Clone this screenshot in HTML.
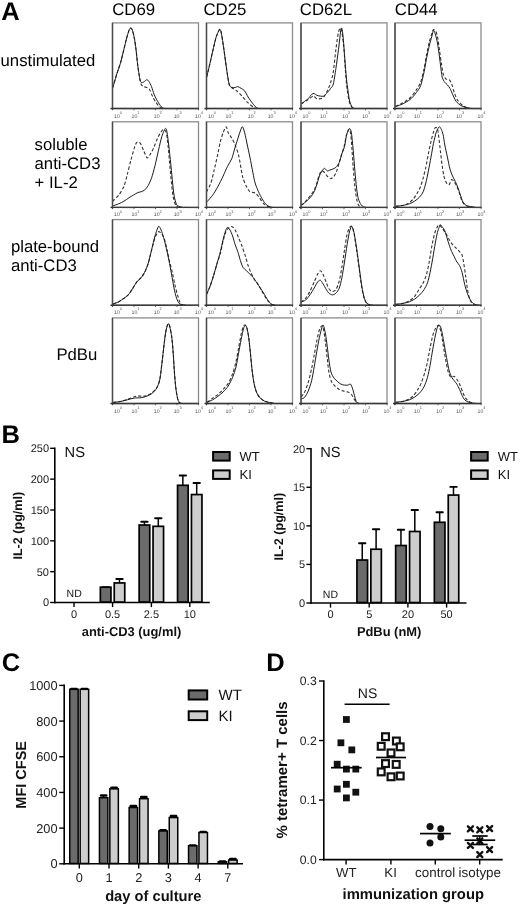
<!DOCTYPE html>
<html><head><meta charset="utf-8"><title>Figure</title>
<style>
html,body{margin:0;padding:0;background:#fff;}
body{width:520px;height:908px;overflow:hidden;}
svg{display:block;}
text{font-family:'Liberation Sans', Arial, Helvetica, sans-serif;text-rendering:geometricPrecision;}
</style></head>
<body>
<svg width="520" height="908" viewBox="0 0 520 908">
<rect width="520" height="908" fill="#fff"/>
<rect x="112.5" y="22.9" width="86" height="85.6" fill="none" stroke="#8c8c8c" stroke-width="1.3"/>
<path d="M112.5,87.4 C112.58,87.29 112.48,88.53 113.1,86.6 C113.72,84.67 115.88,76.86 116.9,73.6 C117.92,70.34 119.42,66.69 120.4,63.3 C121.38,59.91 123.06,52.8 123.9,49.4 C124.74,46 125.69,41.66 126.4,39 C127.11,36.34 128.44,31.93 129,30.4 C129.56,28.87 129.97,28.23 130.4,28.1 C130.83,27.97 131.57,28.21 132.1,29.5 C132.63,30.79 133.65,34.51 134.2,37.3 C134.75,40.09 135.51,45.52 136,49.4 C136.49,53.28 137.17,60.88 137.7,65 C138.23,69.12 139.31,76.08 139.8,78.8 C140.29,81.52 140.64,83.31 141.2,84.4 C141.76,85.49 143.03,86.17 143.8,86.6 C144.57,87.03 145.92,87.14 146.7,87.5 C147.48,87.86 148.6,88 149.4,89.2 C150.2,90.4 151.5,94.28 152.4,96.1 C153.3,97.92 154.83,100.74 155.8,102.2 C156.77,103.66 158.45,105.65 159.3,106.5 C160.15,107.35 161.17,108.02 161.9,108.3 C162.63,108.58 164.14,108.47 164.5,108.5" fill="none" stroke="#333" stroke-width="1.1" stroke-dasharray="3.2 2"/>
<path d="M112.5,87.4 C112.58,87.29 112.48,88.53 113.1,86.6 C113.72,84.67 115.88,76.86 116.9,73.6 C117.92,70.34 119.42,66.69 120.4,63.3 C121.38,59.91 123.06,52.8 123.9,49.4 C124.74,46 125.69,41.66 126.4,39 C127.11,36.34 128.44,31.93 129,30.4 C129.56,28.87 129.97,28.23 130.4,28.1 C130.83,27.97 131.57,28.21 132.1,29.5 C132.63,30.79 133.65,34.51 134.2,37.3 C134.75,40.09 135.51,45.52 136,49.4 C136.49,53.28 137.17,60.88 137.7,65 C138.23,69.12 139.31,76.38 139.8,78.8 C140.29,81.22 140.64,81.86 141.2,82.3 C141.76,82.74 143.03,82.31 143.8,81.95 C144.57,81.59 145.99,79.78 146.7,79.7 C147.41,79.62 148.23,80.43 148.9,81.4 C149.57,82.37 150.77,84.78 151.5,86.6 C152.23,88.42 153.25,92.34 154.1,94.4 C154.95,96.46 156.62,99.61 157.6,101.3 C158.58,102.99 160.25,105.52 161.1,106.5 C161.95,107.48 162.94,108.02 163.7,108.3 C164.46,108.58 166.11,108.47 166.5,108.5" fill="none" stroke="#1a1a1a" stroke-width="1.0"/>
<line x1="112.5" y1="22.9" x2="112.5" y2="110" stroke="#4a4a4a" stroke-width="1.4"/>
<line x1="110.5" y1="108.5" x2="199.1" y2="108.5" stroke="#333" stroke-width="1.4"/>
<line x1="112.5" y1="108.5" x2="112.5" y2="110.3" stroke="#444" stroke-width="0.8"/>
<line x1="118.97" y1="108.5" x2="118.97" y2="109.5" stroke="#777" stroke-width="0.5"/>
<line x1="122.76" y1="108.5" x2="122.76" y2="109.5" stroke="#777" stroke-width="0.5"/>
<line x1="125.44" y1="108.5" x2="125.44" y2="109.5" stroke="#777" stroke-width="0.5"/>
<line x1="127.53" y1="108.5" x2="127.53" y2="109.5" stroke="#777" stroke-width="0.5"/>
<line x1="129.23" y1="108.5" x2="129.23" y2="109.5" stroke="#777" stroke-width="0.5"/>
<line x1="130.67" y1="108.5" x2="130.67" y2="109.5" stroke="#777" stroke-width="0.5"/>
<line x1="131.92" y1="108.5" x2="131.92" y2="109.5" stroke="#777" stroke-width="0.5"/>
<line x1="133.02" y1="108.5" x2="133.02" y2="109.5" stroke="#777" stroke-width="0.5"/>
<line x1="134" y1="108.5" x2="134" y2="110.3" stroke="#444" stroke-width="0.8"/>
<line x1="140.47" y1="108.5" x2="140.47" y2="109.5" stroke="#777" stroke-width="0.5"/>
<line x1="144.26" y1="108.5" x2="144.26" y2="109.5" stroke="#777" stroke-width="0.5"/>
<line x1="146.94" y1="108.5" x2="146.94" y2="109.5" stroke="#777" stroke-width="0.5"/>
<line x1="149.03" y1="108.5" x2="149.03" y2="109.5" stroke="#777" stroke-width="0.5"/>
<line x1="150.73" y1="108.5" x2="150.73" y2="109.5" stroke="#777" stroke-width="0.5"/>
<line x1="152.17" y1="108.5" x2="152.17" y2="109.5" stroke="#777" stroke-width="0.5"/>
<line x1="153.42" y1="108.5" x2="153.42" y2="109.5" stroke="#777" stroke-width="0.5"/>
<line x1="154.52" y1="108.5" x2="154.52" y2="109.5" stroke="#777" stroke-width="0.5"/>
<line x1="155.5" y1="108.5" x2="155.5" y2="110.3" stroke="#444" stroke-width="0.8"/>
<line x1="161.97" y1="108.5" x2="161.97" y2="109.5" stroke="#777" stroke-width="0.5"/>
<line x1="165.76" y1="108.5" x2="165.76" y2="109.5" stroke="#777" stroke-width="0.5"/>
<line x1="168.44" y1="108.5" x2="168.44" y2="109.5" stroke="#777" stroke-width="0.5"/>
<line x1="170.53" y1="108.5" x2="170.53" y2="109.5" stroke="#777" stroke-width="0.5"/>
<line x1="172.23" y1="108.5" x2="172.23" y2="109.5" stroke="#777" stroke-width="0.5"/>
<line x1="173.67" y1="108.5" x2="173.67" y2="109.5" stroke="#777" stroke-width="0.5"/>
<line x1="174.92" y1="108.5" x2="174.92" y2="109.5" stroke="#777" stroke-width="0.5"/>
<line x1="176.02" y1="108.5" x2="176.02" y2="109.5" stroke="#777" stroke-width="0.5"/>
<line x1="177" y1="108.5" x2="177" y2="110.3" stroke="#444" stroke-width="0.8"/>
<line x1="183.47" y1="108.5" x2="183.47" y2="109.5" stroke="#777" stroke-width="0.5"/>
<line x1="187.26" y1="108.5" x2="187.26" y2="109.5" stroke="#777" stroke-width="0.5"/>
<line x1="189.94" y1="108.5" x2="189.94" y2="109.5" stroke="#777" stroke-width="0.5"/>
<line x1="192.03" y1="108.5" x2="192.03" y2="109.5" stroke="#777" stroke-width="0.5"/>
<line x1="193.73" y1="108.5" x2="193.73" y2="109.5" stroke="#777" stroke-width="0.5"/>
<line x1="195.17" y1="108.5" x2="195.17" y2="109.5" stroke="#777" stroke-width="0.5"/>
<line x1="196.42" y1="108.5" x2="196.42" y2="109.5" stroke="#777" stroke-width="0.5"/>
<line x1="197.52" y1="108.5" x2="197.52" y2="109.5" stroke="#777" stroke-width="0.5"/>
<line x1="198.5" y1="108.5" x2="198.5" y2="110.3" stroke="#444" stroke-width="0.8"/>
<text transform="translate(114.1,117.5) scale(0.5)" font-size="10.4" fill="#555">10</text>
<text transform="translate(119.8,113.7) scale(0.5)" font-size="7.8" fill="#555">0</text>
<text transform="translate(131.6,117.5) scale(0.5)" font-size="10.4" fill="#555">10</text>
<text transform="translate(137.3,113.7) scale(0.5)" font-size="7.8" fill="#555">1</text>
<text transform="translate(153.8,117.5) scale(0.5)" font-size="10.4" fill="#555">10</text>
<text transform="translate(159.5,113.7) scale(0.5)" font-size="7.8" fill="#555">2</text>
<text transform="translate(173.7,117.5) scale(0.5)" font-size="10.4" fill="#555">10</text>
<text transform="translate(179.4,113.7) scale(0.5)" font-size="7.8" fill="#555">3</text>
<text transform="translate(195.1,117.5) scale(0.5)" font-size="10.4" fill="#555">10</text>
<text transform="translate(200.8,113.7) scale(0.5)" font-size="7.8" fill="#555">4</text>
<rect x="206.5" y="22.9" width="86" height="85.6" fill="none" stroke="#8c8c8c" stroke-width="1.3"/>
<path d="M206.6,77.1 C206.96,75.64 208.35,70.33 209.2,66.7 C210.05,63.07 211.73,55.32 212.7,51.2 C213.67,47.08 215.13,40.34 216.1,37.3 C217.07,34.26 218.87,30.1 219.6,29.5 C220.33,28.9 220.7,30.21 221.3,33 C221.9,35.79 223.17,44.44 223.9,49.4 C224.63,54.36 225.77,63.56 226.5,68.4 C227.23,73.24 228.37,81.33 229.1,84 C229.83,86.67 230.61,86.52 231.7,87.5 C232.79,88.48 235.44,89.8 236.9,91 C238.36,92.2 240.64,94.53 242.1,96.1 C243.56,97.67 245.84,100.74 247.3,102.2 C248.76,103.66 251.28,105.62 252.5,106.5 C253.72,107.38 255.51,108.22 256,108.5" fill="none" stroke="#333" stroke-width="1.1" stroke-dasharray="3.2 2"/>
<path d="M206.6,77.1 C206.96,75.64 208.35,70.33 209.2,66.7 C210.05,63.07 211.73,55.32 212.7,51.2 C213.67,47.08 215.13,40.34 216.1,37.3 C217.07,34.26 218.87,30.1 219.6,29.5 C220.33,28.9 220.7,30.21 221.3,33 C221.9,35.79 223.17,44.44 223.9,49.4 C224.63,54.36 225.77,63.56 226.5,68.4 C227.23,73.24 228.37,81.33 229.1,84 C229.83,86.67 230.85,87.01 231.7,87.5 C232.55,87.99 234.35,87.63 235.2,87.5 C236.05,87.37 236.96,86.47 237.8,86.6 C238.64,86.73 240.23,87.78 241.2,88.4 C242.17,89.02 243.73,89.8 244.7,91 C245.67,92.2 247.02,95.31 248.1,97 C249.18,98.69 251.18,101.57 252.4,103.1 C253.62,104.63 255.67,107.14 256.8,107.9 C257.93,108.66 259.98,108.42 260.5,108.5" fill="none" stroke="#1a1a1a" stroke-width="1.0"/>
<line x1="206.5" y1="22.9" x2="206.5" y2="110" stroke="#4a4a4a" stroke-width="1.4"/>
<line x1="204.5" y1="108.5" x2="293.1" y2="108.5" stroke="#333" stroke-width="1.4"/>
<line x1="206.5" y1="108.5" x2="206.5" y2="110.3" stroke="#444" stroke-width="0.8"/>
<line x1="212.97" y1="108.5" x2="212.97" y2="109.5" stroke="#777" stroke-width="0.5"/>
<line x1="216.76" y1="108.5" x2="216.76" y2="109.5" stroke="#777" stroke-width="0.5"/>
<line x1="219.44" y1="108.5" x2="219.44" y2="109.5" stroke="#777" stroke-width="0.5"/>
<line x1="221.53" y1="108.5" x2="221.53" y2="109.5" stroke="#777" stroke-width="0.5"/>
<line x1="223.23" y1="108.5" x2="223.23" y2="109.5" stroke="#777" stroke-width="0.5"/>
<line x1="224.67" y1="108.5" x2="224.67" y2="109.5" stroke="#777" stroke-width="0.5"/>
<line x1="225.92" y1="108.5" x2="225.92" y2="109.5" stroke="#777" stroke-width="0.5"/>
<line x1="227.02" y1="108.5" x2="227.02" y2="109.5" stroke="#777" stroke-width="0.5"/>
<line x1="228" y1="108.5" x2="228" y2="110.3" stroke="#444" stroke-width="0.8"/>
<line x1="234.47" y1="108.5" x2="234.47" y2="109.5" stroke="#777" stroke-width="0.5"/>
<line x1="238.26" y1="108.5" x2="238.26" y2="109.5" stroke="#777" stroke-width="0.5"/>
<line x1="240.94" y1="108.5" x2="240.94" y2="109.5" stroke="#777" stroke-width="0.5"/>
<line x1="243.03" y1="108.5" x2="243.03" y2="109.5" stroke="#777" stroke-width="0.5"/>
<line x1="244.73" y1="108.5" x2="244.73" y2="109.5" stroke="#777" stroke-width="0.5"/>
<line x1="246.17" y1="108.5" x2="246.17" y2="109.5" stroke="#777" stroke-width="0.5"/>
<line x1="247.42" y1="108.5" x2="247.42" y2="109.5" stroke="#777" stroke-width="0.5"/>
<line x1="248.52" y1="108.5" x2="248.52" y2="109.5" stroke="#777" stroke-width="0.5"/>
<line x1="249.5" y1="108.5" x2="249.5" y2="110.3" stroke="#444" stroke-width="0.8"/>
<line x1="255.97" y1="108.5" x2="255.97" y2="109.5" stroke="#777" stroke-width="0.5"/>
<line x1="259.76" y1="108.5" x2="259.76" y2="109.5" stroke="#777" stroke-width="0.5"/>
<line x1="262.44" y1="108.5" x2="262.44" y2="109.5" stroke="#777" stroke-width="0.5"/>
<line x1="264.53" y1="108.5" x2="264.53" y2="109.5" stroke="#777" stroke-width="0.5"/>
<line x1="266.23" y1="108.5" x2="266.23" y2="109.5" stroke="#777" stroke-width="0.5"/>
<line x1="267.67" y1="108.5" x2="267.67" y2="109.5" stroke="#777" stroke-width="0.5"/>
<line x1="268.92" y1="108.5" x2="268.92" y2="109.5" stroke="#777" stroke-width="0.5"/>
<line x1="270.02" y1="108.5" x2="270.02" y2="109.5" stroke="#777" stroke-width="0.5"/>
<line x1="271" y1="108.5" x2="271" y2="110.3" stroke="#444" stroke-width="0.8"/>
<line x1="277.47" y1="108.5" x2="277.47" y2="109.5" stroke="#777" stroke-width="0.5"/>
<line x1="281.26" y1="108.5" x2="281.26" y2="109.5" stroke="#777" stroke-width="0.5"/>
<line x1="283.94" y1="108.5" x2="283.94" y2="109.5" stroke="#777" stroke-width="0.5"/>
<line x1="286.03" y1="108.5" x2="286.03" y2="109.5" stroke="#777" stroke-width="0.5"/>
<line x1="287.73" y1="108.5" x2="287.73" y2="109.5" stroke="#777" stroke-width="0.5"/>
<line x1="289.17" y1="108.5" x2="289.17" y2="109.5" stroke="#777" stroke-width="0.5"/>
<line x1="290.42" y1="108.5" x2="290.42" y2="109.5" stroke="#777" stroke-width="0.5"/>
<line x1="291.52" y1="108.5" x2="291.52" y2="109.5" stroke="#777" stroke-width="0.5"/>
<line x1="292.5" y1="108.5" x2="292.5" y2="110.3" stroke="#444" stroke-width="0.8"/>
<text transform="translate(208.1,117.5) scale(0.5)" font-size="10.4" fill="#555">10</text>
<text transform="translate(213.8,113.7) scale(0.5)" font-size="7.8" fill="#555">0</text>
<text transform="translate(225.6,117.5) scale(0.5)" font-size="10.4" fill="#555">10</text>
<text transform="translate(231.3,113.7) scale(0.5)" font-size="7.8" fill="#555">1</text>
<text transform="translate(247.8,117.5) scale(0.5)" font-size="10.4" fill="#555">10</text>
<text transform="translate(253.5,113.7) scale(0.5)" font-size="7.8" fill="#555">2</text>
<text transform="translate(267.7,117.5) scale(0.5)" font-size="10.4" fill="#555">10</text>
<text transform="translate(273.4,113.7) scale(0.5)" font-size="7.8" fill="#555">3</text>
<text transform="translate(289.1,117.5) scale(0.5)" font-size="10.4" fill="#555">10</text>
<text transform="translate(294.8,113.7) scale(0.5)" font-size="7.8" fill="#555">4</text>
<rect x="301" y="22.9" width="86" height="85.6" fill="none" stroke="#8c8c8c" stroke-width="1.3"/>
<path d="M301.3,103.9 C302.27,103.3 306.51,100.69 308.2,99.6 C309.89,98.51 312.2,96.23 313.4,96.1 C314.6,95.97 315.83,98.34 316.8,98.7 C317.77,99.06 319.32,98.94 320.3,98.7 C321.28,98.46 322.71,98.33 323.8,97 C324.89,95.67 327.13,91.26 328.1,89.2 C329.07,87.14 329.97,84.72 330.7,82.3 C331.43,79.88 332.57,76.51 333.3,71.9 C334.03,67.29 335.17,54.97 335.9,49.4 C336.63,43.83 337.77,35 338.5,32.1 C339.23,29.2 340.37,26.75 341.1,28.7 C341.83,30.65 343.1,40.19 343.7,46 C344.3,51.81 344.92,64.15 345.4,70.2 C345.88,76.25 346.5,84.59 347.1,89.2 C347.7,93.81 348.97,100.51 349.7,103.1 C350.43,105.69 351.7,106.94 352.3,107.7 C352.9,108.46 353.76,108.39 354,108.5" fill="none" stroke="#333" stroke-width="1.1" stroke-dasharray="3.2 2"/>
<path d="M301.3,103.9 C301.78,103.54 303.73,102.03 304.7,101.3 C305.67,100.57 307.23,99.67 308.2,98.7 C309.17,97.73 310.76,95.13 311.6,94.4 C312.44,93.67 313.47,93.37 314.2,93.5 C314.93,93.63 315.95,94.94 316.8,95.3 C317.65,95.66 319.32,95.99 320.3,96.1 C321.28,96.21 322.83,96.58 323.8,96.1 C324.77,95.62 326.23,93.78 327.2,92.7 C328.17,91.62 329.85,89.62 330.7,88.4 C331.55,87.18 332.57,86.79 333.3,84 C334.03,81.21 335.17,73.34 335.9,68.5 C336.63,63.66 337.77,54.97 338.5,49.4 C339.23,43.83 340.5,30.88 341.1,28.7 C341.7,26.52 342.32,30.17 342.8,33.8 C343.28,37.43 344.01,48.54 344.5,54.6 C344.99,60.66 345.81,72.02 346.3,77.1 C346.79,82.18 347.52,87.51 348,90.9 C348.48,94.29 349.1,98.99 349.7,101.3 C350.3,103.61 351.56,106.39 352.3,107.4 C353.04,108.41 354.62,108.35 355,108.5" fill="none" stroke="#1a1a1a" stroke-width="1.0"/>
<line x1="301" y1="22.9" x2="301" y2="110" stroke="#4a4a4a" stroke-width="1.4"/>
<line x1="299" y1="108.5" x2="387.6" y2="108.5" stroke="#333" stroke-width="1.4"/>
<line x1="301" y1="108.5" x2="301" y2="110.3" stroke="#444" stroke-width="0.8"/>
<line x1="307.47" y1="108.5" x2="307.47" y2="109.5" stroke="#777" stroke-width="0.5"/>
<line x1="311.26" y1="108.5" x2="311.26" y2="109.5" stroke="#777" stroke-width="0.5"/>
<line x1="313.94" y1="108.5" x2="313.94" y2="109.5" stroke="#777" stroke-width="0.5"/>
<line x1="316.03" y1="108.5" x2="316.03" y2="109.5" stroke="#777" stroke-width="0.5"/>
<line x1="317.73" y1="108.5" x2="317.73" y2="109.5" stroke="#777" stroke-width="0.5"/>
<line x1="319.17" y1="108.5" x2="319.17" y2="109.5" stroke="#777" stroke-width="0.5"/>
<line x1="320.42" y1="108.5" x2="320.42" y2="109.5" stroke="#777" stroke-width="0.5"/>
<line x1="321.52" y1="108.5" x2="321.52" y2="109.5" stroke="#777" stroke-width="0.5"/>
<line x1="322.5" y1="108.5" x2="322.5" y2="110.3" stroke="#444" stroke-width="0.8"/>
<line x1="328.97" y1="108.5" x2="328.97" y2="109.5" stroke="#777" stroke-width="0.5"/>
<line x1="332.76" y1="108.5" x2="332.76" y2="109.5" stroke="#777" stroke-width="0.5"/>
<line x1="335.44" y1="108.5" x2="335.44" y2="109.5" stroke="#777" stroke-width="0.5"/>
<line x1="337.53" y1="108.5" x2="337.53" y2="109.5" stroke="#777" stroke-width="0.5"/>
<line x1="339.23" y1="108.5" x2="339.23" y2="109.5" stroke="#777" stroke-width="0.5"/>
<line x1="340.67" y1="108.5" x2="340.67" y2="109.5" stroke="#777" stroke-width="0.5"/>
<line x1="341.92" y1="108.5" x2="341.92" y2="109.5" stroke="#777" stroke-width="0.5"/>
<line x1="343.02" y1="108.5" x2="343.02" y2="109.5" stroke="#777" stroke-width="0.5"/>
<line x1="344" y1="108.5" x2="344" y2="110.3" stroke="#444" stroke-width="0.8"/>
<line x1="350.47" y1="108.5" x2="350.47" y2="109.5" stroke="#777" stroke-width="0.5"/>
<line x1="354.26" y1="108.5" x2="354.26" y2="109.5" stroke="#777" stroke-width="0.5"/>
<line x1="356.94" y1="108.5" x2="356.94" y2="109.5" stroke="#777" stroke-width="0.5"/>
<line x1="359.03" y1="108.5" x2="359.03" y2="109.5" stroke="#777" stroke-width="0.5"/>
<line x1="360.73" y1="108.5" x2="360.73" y2="109.5" stroke="#777" stroke-width="0.5"/>
<line x1="362.17" y1="108.5" x2="362.17" y2="109.5" stroke="#777" stroke-width="0.5"/>
<line x1="363.42" y1="108.5" x2="363.42" y2="109.5" stroke="#777" stroke-width="0.5"/>
<line x1="364.52" y1="108.5" x2="364.52" y2="109.5" stroke="#777" stroke-width="0.5"/>
<line x1="365.5" y1="108.5" x2="365.5" y2="110.3" stroke="#444" stroke-width="0.8"/>
<line x1="371.97" y1="108.5" x2="371.97" y2="109.5" stroke="#777" stroke-width="0.5"/>
<line x1="375.76" y1="108.5" x2="375.76" y2="109.5" stroke="#777" stroke-width="0.5"/>
<line x1="378.44" y1="108.5" x2="378.44" y2="109.5" stroke="#777" stroke-width="0.5"/>
<line x1="380.53" y1="108.5" x2="380.53" y2="109.5" stroke="#777" stroke-width="0.5"/>
<line x1="382.23" y1="108.5" x2="382.23" y2="109.5" stroke="#777" stroke-width="0.5"/>
<line x1="383.67" y1="108.5" x2="383.67" y2="109.5" stroke="#777" stroke-width="0.5"/>
<line x1="384.92" y1="108.5" x2="384.92" y2="109.5" stroke="#777" stroke-width="0.5"/>
<line x1="386.02" y1="108.5" x2="386.02" y2="109.5" stroke="#777" stroke-width="0.5"/>
<line x1="387" y1="108.5" x2="387" y2="110.3" stroke="#444" stroke-width="0.8"/>
<text transform="translate(302.6,117.5) scale(0.5)" font-size="10.4" fill="#555">10</text>
<text transform="translate(308.3,113.7) scale(0.5)" font-size="7.8" fill="#555">0</text>
<text transform="translate(320.1,117.5) scale(0.5)" font-size="10.4" fill="#555">10</text>
<text transform="translate(325.8,113.7) scale(0.5)" font-size="7.8" fill="#555">1</text>
<text transform="translate(342.3,117.5) scale(0.5)" font-size="10.4" fill="#555">10</text>
<text transform="translate(348,113.7) scale(0.5)" font-size="7.8" fill="#555">2</text>
<text transform="translate(362.2,117.5) scale(0.5)" font-size="10.4" fill="#555">10</text>
<text transform="translate(367.9,113.7) scale(0.5)" font-size="7.8" fill="#555">3</text>
<text transform="translate(383.6,117.5) scale(0.5)" font-size="10.4" fill="#555">10</text>
<text transform="translate(389.3,113.7) scale(0.5)" font-size="7.8" fill="#555">4</text>
<rect x="395" y="22.9" width="86" height="85.6" fill="none" stroke="#8c8c8c" stroke-width="1.3"/>
<path d="M395.5,106.5 C396.23,106.14 399.24,104.67 400.7,103.9 C402.16,103.13 404.44,101.97 405.9,101 C407.36,100.03 409.66,98.53 411.1,97 C412.54,95.47 414.87,92.16 416.2,90.1 C417.53,88.04 419.49,85.32 420.6,82.3 C421.71,79.28 423.26,72.38 424.1,68.5 C424.94,64.62 425.89,58.24 426.6,54.6 C427.31,50.96 428.47,45.41 429.2,42.5 C429.93,39.59 431.2,35.62 431.8,33.8 C432.4,31.98 432.9,29.74 433.5,29.5 C434.1,29.26 435.48,30.77 436.1,32.1 C436.72,33.43 437.41,36.34 437.9,39 C438.39,41.66 439.11,47.7 439.6,51.1 C440.09,54.5 440.91,60.15 441.4,63.3 C441.89,66.45 442.5,71.43 443.1,73.6 C443.7,75.77 444.85,77.95 445.7,78.8 C446.55,79.65 448.36,78.97 449.2,79.7 C450.04,80.43 450.99,82.18 451.7,84 C452.41,85.82 453.45,90.39 454.3,92.7 C455.15,95.01 456.58,98.68 457.8,100.5 C459.02,102.32 461.57,104.58 463,105.7 C464.43,106.82 467.3,108.11 468,108.5" fill="none" stroke="#333" stroke-width="1.1" stroke-dasharray="3.2 2"/>
<path d="M395.5,106.5 C396.23,106.26 399.24,105.4 400.7,104.8 C402.16,104.2 404.44,103.05 405.9,102.2 C407.36,101.35 409.66,100.03 411.1,98.7 C412.54,97.37 414.87,94.51 416.2,92.7 C417.53,90.89 419.49,88.71 420.6,85.8 C421.71,82.89 423.26,75.78 424.1,71.9 C424.94,68.02 425.89,61.73 426.6,58.1 C427.31,54.47 428.47,49.04 429.2,46 C429.93,42.96 431.2,38.58 431.8,36.4 C432.4,34.22 433.02,30.76 433.5,30.4 C433.98,30.04 434.71,32.34 435.2,33.8 C435.69,35.26 436.51,38.38 437,40.8 C437.49,43.22 438.21,47.71 438.7,51.1 C439.19,54.49 440.01,61.36 440.5,65 C440.99,68.64 441.6,74.68 442.2,77.1 C442.8,79.52 444.07,81.21 444.8,82.3 C445.53,83.39 446.67,84.05 447.4,84.9 C448.13,85.75 449.27,87.07 450,88.4 C450.73,89.73 451.75,92.59 452.6,94.4 C453.45,96.21 454.9,99.72 456.1,101.3 C457.3,102.88 459.76,104.85 461.2,105.7 C462.64,106.55 465.03,107.01 466.4,107.4 C467.77,107.79 470.36,108.35 471,108.5" fill="none" stroke="#1a1a1a" stroke-width="1.0"/>
<line x1="395" y1="22.9" x2="395" y2="110" stroke="#4a4a4a" stroke-width="1.4"/>
<line x1="393" y1="108.5" x2="481.6" y2="108.5" stroke="#333" stroke-width="1.4"/>
<line x1="395" y1="108.5" x2="395" y2="110.3" stroke="#444" stroke-width="0.8"/>
<line x1="401.47" y1="108.5" x2="401.47" y2="109.5" stroke="#777" stroke-width="0.5"/>
<line x1="405.26" y1="108.5" x2="405.26" y2="109.5" stroke="#777" stroke-width="0.5"/>
<line x1="407.94" y1="108.5" x2="407.94" y2="109.5" stroke="#777" stroke-width="0.5"/>
<line x1="410.03" y1="108.5" x2="410.03" y2="109.5" stroke="#777" stroke-width="0.5"/>
<line x1="411.73" y1="108.5" x2="411.73" y2="109.5" stroke="#777" stroke-width="0.5"/>
<line x1="413.17" y1="108.5" x2="413.17" y2="109.5" stroke="#777" stroke-width="0.5"/>
<line x1="414.42" y1="108.5" x2="414.42" y2="109.5" stroke="#777" stroke-width="0.5"/>
<line x1="415.52" y1="108.5" x2="415.52" y2="109.5" stroke="#777" stroke-width="0.5"/>
<line x1="416.5" y1="108.5" x2="416.5" y2="110.3" stroke="#444" stroke-width="0.8"/>
<line x1="422.97" y1="108.5" x2="422.97" y2="109.5" stroke="#777" stroke-width="0.5"/>
<line x1="426.76" y1="108.5" x2="426.76" y2="109.5" stroke="#777" stroke-width="0.5"/>
<line x1="429.44" y1="108.5" x2="429.44" y2="109.5" stroke="#777" stroke-width="0.5"/>
<line x1="431.53" y1="108.5" x2="431.53" y2="109.5" stroke="#777" stroke-width="0.5"/>
<line x1="433.23" y1="108.5" x2="433.23" y2="109.5" stroke="#777" stroke-width="0.5"/>
<line x1="434.67" y1="108.5" x2="434.67" y2="109.5" stroke="#777" stroke-width="0.5"/>
<line x1="435.92" y1="108.5" x2="435.92" y2="109.5" stroke="#777" stroke-width="0.5"/>
<line x1="437.02" y1="108.5" x2="437.02" y2="109.5" stroke="#777" stroke-width="0.5"/>
<line x1="438" y1="108.5" x2="438" y2="110.3" stroke="#444" stroke-width="0.8"/>
<line x1="444.47" y1="108.5" x2="444.47" y2="109.5" stroke="#777" stroke-width="0.5"/>
<line x1="448.26" y1="108.5" x2="448.26" y2="109.5" stroke="#777" stroke-width="0.5"/>
<line x1="450.94" y1="108.5" x2="450.94" y2="109.5" stroke="#777" stroke-width="0.5"/>
<line x1="453.03" y1="108.5" x2="453.03" y2="109.5" stroke="#777" stroke-width="0.5"/>
<line x1="454.73" y1="108.5" x2="454.73" y2="109.5" stroke="#777" stroke-width="0.5"/>
<line x1="456.17" y1="108.5" x2="456.17" y2="109.5" stroke="#777" stroke-width="0.5"/>
<line x1="457.42" y1="108.5" x2="457.42" y2="109.5" stroke="#777" stroke-width="0.5"/>
<line x1="458.52" y1="108.5" x2="458.52" y2="109.5" stroke="#777" stroke-width="0.5"/>
<line x1="459.5" y1="108.5" x2="459.5" y2="110.3" stroke="#444" stroke-width="0.8"/>
<line x1="465.97" y1="108.5" x2="465.97" y2="109.5" stroke="#777" stroke-width="0.5"/>
<line x1="469.76" y1="108.5" x2="469.76" y2="109.5" stroke="#777" stroke-width="0.5"/>
<line x1="472.44" y1="108.5" x2="472.44" y2="109.5" stroke="#777" stroke-width="0.5"/>
<line x1="474.53" y1="108.5" x2="474.53" y2="109.5" stroke="#777" stroke-width="0.5"/>
<line x1="476.23" y1="108.5" x2="476.23" y2="109.5" stroke="#777" stroke-width="0.5"/>
<line x1="477.67" y1="108.5" x2="477.67" y2="109.5" stroke="#777" stroke-width="0.5"/>
<line x1="478.92" y1="108.5" x2="478.92" y2="109.5" stroke="#777" stroke-width="0.5"/>
<line x1="480.02" y1="108.5" x2="480.02" y2="109.5" stroke="#777" stroke-width="0.5"/>
<line x1="481" y1="108.5" x2="481" y2="110.3" stroke="#444" stroke-width="0.8"/>
<text transform="translate(396.6,117.5) scale(0.5)" font-size="10.4" fill="#555">10</text>
<text transform="translate(402.3,113.7) scale(0.5)" font-size="7.8" fill="#555">0</text>
<text transform="translate(414.1,117.5) scale(0.5)" font-size="10.4" fill="#555">10</text>
<text transform="translate(419.8,113.7) scale(0.5)" font-size="7.8" fill="#555">1</text>
<text transform="translate(436.3,117.5) scale(0.5)" font-size="10.4" fill="#555">10</text>
<text transform="translate(442,113.7) scale(0.5)" font-size="7.8" fill="#555">2</text>
<text transform="translate(456.2,117.5) scale(0.5)" font-size="10.4" fill="#555">10</text>
<text transform="translate(461.9,113.7) scale(0.5)" font-size="7.8" fill="#555">3</text>
<text transform="translate(477.6,117.5) scale(0.5)" font-size="10.4" fill="#555">10</text>
<text transform="translate(483.3,113.7) scale(0.5)" font-size="7.8" fill="#555">4</text>
<rect x="112.5" y="121.8" width="86" height="85.6" fill="none" stroke="#8c8c8c" stroke-width="1.3"/>
<path d="M112.5,201.3 C112.64,201.17 112.63,201.27 113.5,200.4 C114.37,199.53 117.24,197.05 118.7,195.1 C120.16,193.15 122.7,189.4 123.9,186.5 C125.1,183.6 126.33,178.04 127.3,174.4 C128.27,170.76 129.83,164.14 130.8,160.5 C131.77,156.86 133.36,150.93 134.2,148.4 C135.04,145.87 135.95,143.13 136.8,142.4 C137.65,141.67 139.32,142 140.3,143.2 C141.28,144.4 142.83,148.94 143.8,151 C144.77,153.06 146.23,157.54 147.2,157.9 C148.17,158.26 149.73,155.17 150.7,153.6 C151.67,152.03 153.13,148.88 154.1,146.7 C155.07,144.52 156.62,140.06 157.6,138 C158.58,135.94 160.25,133.2 161.1,132 C161.95,130.8 162.97,129.29 163.7,129.4 C164.43,129.51 165.7,130.62 166.3,132.8 C166.9,134.98 167.52,140.63 168,145 C168.48,149.37 169.21,158.68 169.7,164 C170.19,169.32 171.01,178.39 171.5,183 C171.99,187.61 172.6,193.75 173.2,196.9 C173.8,200.05 175.06,204.03 175.8,205.5 C176.54,206.97 178.12,207.13 178.5,207.4" fill="none" stroke="#333" stroke-width="1.1" stroke-dasharray="3.2 2"/>
<path d="M112.5,206 C113.37,205.69 117.1,204.47 118.7,203.8 C120.3,203.13 122.44,202.05 123.9,201.2 C125.36,200.35 127.77,198.55 129.1,197.7 C130.43,196.85 132.18,195.81 133.4,195.1 C134.62,194.39 136.71,193.08 137.8,192.6 C138.89,192.12 140.25,192.06 141.2,191.7 C142.15,191.34 143.63,190.85 144.6,190 C145.57,189.15 147.12,187.31 148.1,185.6 C149.08,183.89 150.63,180.59 151.6,177.8 C152.57,175.01 154.03,169.56 155,165.7 C155.97,161.84 157.53,154.32 158.5,150.2 C159.47,146.08 160.93,139.34 161.9,136.3 C162.87,133.26 164.67,128.99 165.4,128.5 C166.13,128.01 166.5,129.29 167.1,132.8 C167.7,136.31 168.97,147.05 169.7,153.6 C170.43,160.15 171.7,173.79 172.3,179.6 C172.9,185.41 173.4,191.59 174,195.1 C174.6,198.61 175.87,203.12 176.6,204.7 C177.33,206.28 178.37,206.02 179.2,206.4 C180.03,206.78 182.04,207.26 182.5,207.4" fill="none" stroke="#1a1a1a" stroke-width="1.0"/>
<line x1="112.5" y1="121.8" x2="112.5" y2="208.9" stroke="#4a4a4a" stroke-width="1.4"/>
<line x1="110.5" y1="207.4" x2="199.1" y2="207.4" stroke="#333" stroke-width="1.4"/>
<line x1="112.5" y1="207.4" x2="112.5" y2="209.2" stroke="#444" stroke-width="0.8"/>
<line x1="118.97" y1="207.4" x2="118.97" y2="208.4" stroke="#777" stroke-width="0.5"/>
<line x1="122.76" y1="207.4" x2="122.76" y2="208.4" stroke="#777" stroke-width="0.5"/>
<line x1="125.44" y1="207.4" x2="125.44" y2="208.4" stroke="#777" stroke-width="0.5"/>
<line x1="127.53" y1="207.4" x2="127.53" y2="208.4" stroke="#777" stroke-width="0.5"/>
<line x1="129.23" y1="207.4" x2="129.23" y2="208.4" stroke="#777" stroke-width="0.5"/>
<line x1="130.67" y1="207.4" x2="130.67" y2="208.4" stroke="#777" stroke-width="0.5"/>
<line x1="131.92" y1="207.4" x2="131.92" y2="208.4" stroke="#777" stroke-width="0.5"/>
<line x1="133.02" y1="207.4" x2="133.02" y2="208.4" stroke="#777" stroke-width="0.5"/>
<line x1="134" y1="207.4" x2="134" y2="209.2" stroke="#444" stroke-width="0.8"/>
<line x1="140.47" y1="207.4" x2="140.47" y2="208.4" stroke="#777" stroke-width="0.5"/>
<line x1="144.26" y1="207.4" x2="144.26" y2="208.4" stroke="#777" stroke-width="0.5"/>
<line x1="146.94" y1="207.4" x2="146.94" y2="208.4" stroke="#777" stroke-width="0.5"/>
<line x1="149.03" y1="207.4" x2="149.03" y2="208.4" stroke="#777" stroke-width="0.5"/>
<line x1="150.73" y1="207.4" x2="150.73" y2="208.4" stroke="#777" stroke-width="0.5"/>
<line x1="152.17" y1="207.4" x2="152.17" y2="208.4" stroke="#777" stroke-width="0.5"/>
<line x1="153.42" y1="207.4" x2="153.42" y2="208.4" stroke="#777" stroke-width="0.5"/>
<line x1="154.52" y1="207.4" x2="154.52" y2="208.4" stroke="#777" stroke-width="0.5"/>
<line x1="155.5" y1="207.4" x2="155.5" y2="209.2" stroke="#444" stroke-width="0.8"/>
<line x1="161.97" y1="207.4" x2="161.97" y2="208.4" stroke="#777" stroke-width="0.5"/>
<line x1="165.76" y1="207.4" x2="165.76" y2="208.4" stroke="#777" stroke-width="0.5"/>
<line x1="168.44" y1="207.4" x2="168.44" y2="208.4" stroke="#777" stroke-width="0.5"/>
<line x1="170.53" y1="207.4" x2="170.53" y2="208.4" stroke="#777" stroke-width="0.5"/>
<line x1="172.23" y1="207.4" x2="172.23" y2="208.4" stroke="#777" stroke-width="0.5"/>
<line x1="173.67" y1="207.4" x2="173.67" y2="208.4" stroke="#777" stroke-width="0.5"/>
<line x1="174.92" y1="207.4" x2="174.92" y2="208.4" stroke="#777" stroke-width="0.5"/>
<line x1="176.02" y1="207.4" x2="176.02" y2="208.4" stroke="#777" stroke-width="0.5"/>
<line x1="177" y1="207.4" x2="177" y2="209.2" stroke="#444" stroke-width="0.8"/>
<line x1="183.47" y1="207.4" x2="183.47" y2="208.4" stroke="#777" stroke-width="0.5"/>
<line x1="187.26" y1="207.4" x2="187.26" y2="208.4" stroke="#777" stroke-width="0.5"/>
<line x1="189.94" y1="207.4" x2="189.94" y2="208.4" stroke="#777" stroke-width="0.5"/>
<line x1="192.03" y1="207.4" x2="192.03" y2="208.4" stroke="#777" stroke-width="0.5"/>
<line x1="193.73" y1="207.4" x2="193.73" y2="208.4" stroke="#777" stroke-width="0.5"/>
<line x1="195.17" y1="207.4" x2="195.17" y2="208.4" stroke="#777" stroke-width="0.5"/>
<line x1="196.42" y1="207.4" x2="196.42" y2="208.4" stroke="#777" stroke-width="0.5"/>
<line x1="197.52" y1="207.4" x2="197.52" y2="208.4" stroke="#777" stroke-width="0.5"/>
<line x1="198.5" y1="207.4" x2="198.5" y2="209.2" stroke="#444" stroke-width="0.8"/>
<text transform="translate(114.1,216.4) scale(0.5)" font-size="10.4" fill="#555">10</text>
<text transform="translate(119.8,212.6) scale(0.5)" font-size="7.8" fill="#555">0</text>
<text transform="translate(131.6,216.4) scale(0.5)" font-size="10.4" fill="#555">10</text>
<text transform="translate(137.3,212.6) scale(0.5)" font-size="7.8" fill="#555">1</text>
<text transform="translate(153.8,216.4) scale(0.5)" font-size="10.4" fill="#555">10</text>
<text transform="translate(159.5,212.6) scale(0.5)" font-size="7.8" fill="#555">2</text>
<text transform="translate(173.7,216.4) scale(0.5)" font-size="10.4" fill="#555">10</text>
<text transform="translate(179.4,212.6) scale(0.5)" font-size="7.8" fill="#555">3</text>
<text transform="translate(195.1,216.4) scale(0.5)" font-size="10.4" fill="#555">10</text>
<text transform="translate(200.8,212.6) scale(0.5)" font-size="7.8" fill="#555">4</text>
<rect x="206.5" y="121.8" width="86" height="85.6" fill="none" stroke="#8c8c8c" stroke-width="1.3"/>
<path d="M206.5,191.8 C206.64,191.55 206.88,191.23 207.5,190 C208.12,188.77 209.93,185.91 210.9,183 C211.87,180.09 213.42,173.32 214.4,169.2 C215.38,165.08 217.06,157.48 217.9,153.6 C218.74,149.72 219.67,144.41 220.4,141.5 C221.13,138.59 222.29,134.86 223.1,132.8 C223.91,130.74 225.49,126.8 226.2,126.8 C226.91,126.8 227.43,131.23 228.2,132.8 C228.97,134.37 230.72,136.29 231.7,138 C232.68,139.71 234.23,142.58 235.2,145 C236.17,147.42 237.76,151.91 238.6,155.3 C239.44,158.69 240.6,166.05 241.2,169.2 C241.8,172.35 242.17,175.38 242.9,177.8 C243.63,180.22 245.42,184.55 246.4,186.5 C247.38,188.45 248.93,190.86 249.9,191.7 C250.87,192.54 252.46,192.26 253.3,192.5 C254.14,192.74 255.05,192.67 255.9,193.4 C256.75,194.13 258.31,196.24 259.4,197.7 C260.49,199.16 262.5,202.58 263.7,203.8 C264.9,205.02 266.91,205.9 268,206.4 C269.09,206.9 271.01,207.26 271.5,207.4" fill="none" stroke="#333" stroke-width="1.1" stroke-dasharray="3.2 2"/>
<path d="M206.5,202.2 C206.64,202.06 206.63,202.19 207.5,201.2 C208.37,200.21 211.24,197.16 212.7,195.1 C214.16,193.04 216.44,189.16 217.9,186.5 C219.36,183.84 221.77,178.89 223.1,176.1 C224.43,173.31 226.2,169.02 227.4,166.6 C228.6,164.18 230.73,161.11 231.7,158.8 C232.67,156.49 233.57,152.52 234.3,150.1 C235.03,147.68 236.06,144.16 236.9,141.5 C237.74,138.84 239.53,133.16 240.3,131.1 C241.07,129.04 241.78,126.56 242.4,126.8 C243.02,127.04 244.01,130.25 244.7,132.8 C245.39,135.35 246.57,141.6 247.3,145 C248.03,148.4 249.12,153.24 249.9,157.1 C250.68,160.96 252.17,168.97 252.9,172.6 C253.63,176.23 254.32,180.33 255.1,183 C255.88,185.67 257.53,189.52 258.5,191.7 C259.47,193.88 261.03,196.91 262,198.6 C262.97,200.29 264.43,202.71 265.4,203.8 C266.37,204.89 267.91,205.9 268.9,206.4 C269.89,206.9 272,207.26 272.5,207.4" fill="none" stroke="#1a1a1a" stroke-width="1.0"/>
<line x1="206.5" y1="121.8" x2="206.5" y2="208.9" stroke="#4a4a4a" stroke-width="1.4"/>
<line x1="204.5" y1="207.4" x2="293.1" y2="207.4" stroke="#333" stroke-width="1.4"/>
<line x1="206.5" y1="207.4" x2="206.5" y2="209.2" stroke="#444" stroke-width="0.8"/>
<line x1="212.97" y1="207.4" x2="212.97" y2="208.4" stroke="#777" stroke-width="0.5"/>
<line x1="216.76" y1="207.4" x2="216.76" y2="208.4" stroke="#777" stroke-width="0.5"/>
<line x1="219.44" y1="207.4" x2="219.44" y2="208.4" stroke="#777" stroke-width="0.5"/>
<line x1="221.53" y1="207.4" x2="221.53" y2="208.4" stroke="#777" stroke-width="0.5"/>
<line x1="223.23" y1="207.4" x2="223.23" y2="208.4" stroke="#777" stroke-width="0.5"/>
<line x1="224.67" y1="207.4" x2="224.67" y2="208.4" stroke="#777" stroke-width="0.5"/>
<line x1="225.92" y1="207.4" x2="225.92" y2="208.4" stroke="#777" stroke-width="0.5"/>
<line x1="227.02" y1="207.4" x2="227.02" y2="208.4" stroke="#777" stroke-width="0.5"/>
<line x1="228" y1="207.4" x2="228" y2="209.2" stroke="#444" stroke-width="0.8"/>
<line x1="234.47" y1="207.4" x2="234.47" y2="208.4" stroke="#777" stroke-width="0.5"/>
<line x1="238.26" y1="207.4" x2="238.26" y2="208.4" stroke="#777" stroke-width="0.5"/>
<line x1="240.94" y1="207.4" x2="240.94" y2="208.4" stroke="#777" stroke-width="0.5"/>
<line x1="243.03" y1="207.4" x2="243.03" y2="208.4" stroke="#777" stroke-width="0.5"/>
<line x1="244.73" y1="207.4" x2="244.73" y2="208.4" stroke="#777" stroke-width="0.5"/>
<line x1="246.17" y1="207.4" x2="246.17" y2="208.4" stroke="#777" stroke-width="0.5"/>
<line x1="247.42" y1="207.4" x2="247.42" y2="208.4" stroke="#777" stroke-width="0.5"/>
<line x1="248.52" y1="207.4" x2="248.52" y2="208.4" stroke="#777" stroke-width="0.5"/>
<line x1="249.5" y1="207.4" x2="249.5" y2="209.2" stroke="#444" stroke-width="0.8"/>
<line x1="255.97" y1="207.4" x2="255.97" y2="208.4" stroke="#777" stroke-width="0.5"/>
<line x1="259.76" y1="207.4" x2="259.76" y2="208.4" stroke="#777" stroke-width="0.5"/>
<line x1="262.44" y1="207.4" x2="262.44" y2="208.4" stroke="#777" stroke-width="0.5"/>
<line x1="264.53" y1="207.4" x2="264.53" y2="208.4" stroke="#777" stroke-width="0.5"/>
<line x1="266.23" y1="207.4" x2="266.23" y2="208.4" stroke="#777" stroke-width="0.5"/>
<line x1="267.67" y1="207.4" x2="267.67" y2="208.4" stroke="#777" stroke-width="0.5"/>
<line x1="268.92" y1="207.4" x2="268.92" y2="208.4" stroke="#777" stroke-width="0.5"/>
<line x1="270.02" y1="207.4" x2="270.02" y2="208.4" stroke="#777" stroke-width="0.5"/>
<line x1="271" y1="207.4" x2="271" y2="209.2" stroke="#444" stroke-width="0.8"/>
<line x1="277.47" y1="207.4" x2="277.47" y2="208.4" stroke="#777" stroke-width="0.5"/>
<line x1="281.26" y1="207.4" x2="281.26" y2="208.4" stroke="#777" stroke-width="0.5"/>
<line x1="283.94" y1="207.4" x2="283.94" y2="208.4" stroke="#777" stroke-width="0.5"/>
<line x1="286.03" y1="207.4" x2="286.03" y2="208.4" stroke="#777" stroke-width="0.5"/>
<line x1="287.73" y1="207.4" x2="287.73" y2="208.4" stroke="#777" stroke-width="0.5"/>
<line x1="289.17" y1="207.4" x2="289.17" y2="208.4" stroke="#777" stroke-width="0.5"/>
<line x1="290.42" y1="207.4" x2="290.42" y2="208.4" stroke="#777" stroke-width="0.5"/>
<line x1="291.52" y1="207.4" x2="291.52" y2="208.4" stroke="#777" stroke-width="0.5"/>
<line x1="292.5" y1="207.4" x2="292.5" y2="209.2" stroke="#444" stroke-width="0.8"/>
<text transform="translate(208.1,216.4) scale(0.5)" font-size="10.4" fill="#555">10</text>
<text transform="translate(213.8,212.6) scale(0.5)" font-size="7.8" fill="#555">0</text>
<text transform="translate(225.6,216.4) scale(0.5)" font-size="10.4" fill="#555">10</text>
<text transform="translate(231.3,212.6) scale(0.5)" font-size="7.8" fill="#555">1</text>
<text transform="translate(247.8,216.4) scale(0.5)" font-size="10.4" fill="#555">10</text>
<text transform="translate(253.5,212.6) scale(0.5)" font-size="7.8" fill="#555">2</text>
<text transform="translate(267.7,216.4) scale(0.5)" font-size="10.4" fill="#555">10</text>
<text transform="translate(273.4,212.6) scale(0.5)" font-size="7.8" fill="#555">3</text>
<text transform="translate(289.1,216.4) scale(0.5)" font-size="10.4" fill="#555">10</text>
<text transform="translate(294.8,212.6) scale(0.5)" font-size="7.8" fill="#555">4</text>
<rect x="301" y="121.8" width="86" height="85.6" fill="none" stroke="#8c8c8c" stroke-width="1.3"/>
<path d="M301,205.3 C301.15,205.22 301.33,205.4 302.1,204.7 C302.87,204 305.28,201.64 306.5,200.3 C307.72,198.96 309.72,196.54 310.8,195.1 C311.88,193.66 313.36,191.69 314.2,190 C315.04,188.31 316.07,185.18 316.8,183 C317.53,180.82 318.67,176.09 319.4,174.4 C320.13,172.71 321.27,171.15 322,170.9 C322.73,170.65 323.87,171.87 324.6,172.6 C325.33,173.33 326.35,175.25 327.2,176.1 C328.05,176.95 329.73,178.7 330.7,178.7 C331.67,178.7 333.26,177.19 334.1,176.1 C334.94,175.01 335.97,172.83 336.7,170.9 C337.43,168.97 338.57,164.72 339.3,162.3 C340.03,159.88 341.17,156.02 341.9,153.6 C342.63,151.18 343.88,147.55 344.5,145 C345.12,142.45 345.7,137.58 346.3,135.4 C346.9,133.22 348.2,129.76 348.8,129.4 C349.4,129.04 350.17,130.14 350.6,132.8 C351.03,135.46 351.54,143.56 351.9,148.4 C352.26,153.24 352.78,162.07 353.2,167.4 C353.62,172.73 354.42,182.13 354.9,186.5 C355.38,190.87 356.12,196.05 356.6,198.6 C357.08,201.15 357.68,203.47 358.3,204.7 C358.92,205.93 360.62,207.02 361,207.4" fill="none" stroke="#333" stroke-width="1.1" stroke-dasharray="3.2 2"/>
<path d="M301,205.3 C301.15,205.22 301.33,205.27 302.1,204.7 C302.87,204.13 305.28,202.29 306.5,201.2 C307.72,200.11 309.72,198.23 310.8,196.9 C311.88,195.57 313.36,193.39 314.2,191.7 C315.04,190.01 316.07,186.98 316.8,184.8 C317.53,182.62 318.67,178.05 319.4,176.1 C320.13,174.15 321.27,171.99 322,170.9 C322.73,169.81 323.87,168.3 324.6,168.3 C325.33,168.3 326.47,170.65 327.2,170.9 C327.93,171.15 329.07,170.34 329.8,170.1 C330.53,169.86 331.55,169.58 332.4,169.2 C333.25,168.82 334.93,168.37 335.9,167.4 C336.87,166.43 338.46,164.23 339.3,162.3 C340.14,160.37 341.17,155.78 341.9,153.6 C342.63,151.42 343.88,149.12 344.5,146.7 C345.12,144.28 345.81,138.48 346.3,136.3 C346.79,134.12 347.52,132.19 348,131.1 C348.48,130.01 349.22,128.26 349.7,128.5 C350.18,128.74 350.91,129.78 351.4,132.8 C351.89,135.82 352.71,144.77 353.2,150.1 C353.69,155.43 354.42,165.57 354.9,170.9 C355.38,176.23 356.12,184.32 356.6,188.2 C357.08,192.08 357.68,196.29 358.3,198.6 C358.92,200.91 360.26,203.55 361,204.7 C361.74,205.85 362.9,206.42 363.6,206.8 C364.3,207.18 365.66,207.32 366,207.4" fill="none" stroke="#1a1a1a" stroke-width="1.0"/>
<line x1="301" y1="121.8" x2="301" y2="208.9" stroke="#4a4a4a" stroke-width="1.4"/>
<line x1="299" y1="207.4" x2="387.6" y2="207.4" stroke="#333" stroke-width="1.4"/>
<line x1="301" y1="207.4" x2="301" y2="209.2" stroke="#444" stroke-width="0.8"/>
<line x1="307.47" y1="207.4" x2="307.47" y2="208.4" stroke="#777" stroke-width="0.5"/>
<line x1="311.26" y1="207.4" x2="311.26" y2="208.4" stroke="#777" stroke-width="0.5"/>
<line x1="313.94" y1="207.4" x2="313.94" y2="208.4" stroke="#777" stroke-width="0.5"/>
<line x1="316.03" y1="207.4" x2="316.03" y2="208.4" stroke="#777" stroke-width="0.5"/>
<line x1="317.73" y1="207.4" x2="317.73" y2="208.4" stroke="#777" stroke-width="0.5"/>
<line x1="319.17" y1="207.4" x2="319.17" y2="208.4" stroke="#777" stroke-width="0.5"/>
<line x1="320.42" y1="207.4" x2="320.42" y2="208.4" stroke="#777" stroke-width="0.5"/>
<line x1="321.52" y1="207.4" x2="321.52" y2="208.4" stroke="#777" stroke-width="0.5"/>
<line x1="322.5" y1="207.4" x2="322.5" y2="209.2" stroke="#444" stroke-width="0.8"/>
<line x1="328.97" y1="207.4" x2="328.97" y2="208.4" stroke="#777" stroke-width="0.5"/>
<line x1="332.76" y1="207.4" x2="332.76" y2="208.4" stroke="#777" stroke-width="0.5"/>
<line x1="335.44" y1="207.4" x2="335.44" y2="208.4" stroke="#777" stroke-width="0.5"/>
<line x1="337.53" y1="207.4" x2="337.53" y2="208.4" stroke="#777" stroke-width="0.5"/>
<line x1="339.23" y1="207.4" x2="339.23" y2="208.4" stroke="#777" stroke-width="0.5"/>
<line x1="340.67" y1="207.4" x2="340.67" y2="208.4" stroke="#777" stroke-width="0.5"/>
<line x1="341.92" y1="207.4" x2="341.92" y2="208.4" stroke="#777" stroke-width="0.5"/>
<line x1="343.02" y1="207.4" x2="343.02" y2="208.4" stroke="#777" stroke-width="0.5"/>
<line x1="344" y1="207.4" x2="344" y2="209.2" stroke="#444" stroke-width="0.8"/>
<line x1="350.47" y1="207.4" x2="350.47" y2="208.4" stroke="#777" stroke-width="0.5"/>
<line x1="354.26" y1="207.4" x2="354.26" y2="208.4" stroke="#777" stroke-width="0.5"/>
<line x1="356.94" y1="207.4" x2="356.94" y2="208.4" stroke="#777" stroke-width="0.5"/>
<line x1="359.03" y1="207.4" x2="359.03" y2="208.4" stroke="#777" stroke-width="0.5"/>
<line x1="360.73" y1="207.4" x2="360.73" y2="208.4" stroke="#777" stroke-width="0.5"/>
<line x1="362.17" y1="207.4" x2="362.17" y2="208.4" stroke="#777" stroke-width="0.5"/>
<line x1="363.42" y1="207.4" x2="363.42" y2="208.4" stroke="#777" stroke-width="0.5"/>
<line x1="364.52" y1="207.4" x2="364.52" y2="208.4" stroke="#777" stroke-width="0.5"/>
<line x1="365.5" y1="207.4" x2="365.5" y2="209.2" stroke="#444" stroke-width="0.8"/>
<line x1="371.97" y1="207.4" x2="371.97" y2="208.4" stroke="#777" stroke-width="0.5"/>
<line x1="375.76" y1="207.4" x2="375.76" y2="208.4" stroke="#777" stroke-width="0.5"/>
<line x1="378.44" y1="207.4" x2="378.44" y2="208.4" stroke="#777" stroke-width="0.5"/>
<line x1="380.53" y1="207.4" x2="380.53" y2="208.4" stroke="#777" stroke-width="0.5"/>
<line x1="382.23" y1="207.4" x2="382.23" y2="208.4" stroke="#777" stroke-width="0.5"/>
<line x1="383.67" y1="207.4" x2="383.67" y2="208.4" stroke="#777" stroke-width="0.5"/>
<line x1="384.92" y1="207.4" x2="384.92" y2="208.4" stroke="#777" stroke-width="0.5"/>
<line x1="386.02" y1="207.4" x2="386.02" y2="208.4" stroke="#777" stroke-width="0.5"/>
<line x1="387" y1="207.4" x2="387" y2="209.2" stroke="#444" stroke-width="0.8"/>
<text transform="translate(302.6,216.4) scale(0.5)" font-size="10.4" fill="#555">10</text>
<text transform="translate(308.3,212.6) scale(0.5)" font-size="7.8" fill="#555">0</text>
<text transform="translate(320.1,216.4) scale(0.5)" font-size="10.4" fill="#555">10</text>
<text transform="translate(325.8,212.6) scale(0.5)" font-size="7.8" fill="#555">1</text>
<text transform="translate(342.3,216.4) scale(0.5)" font-size="10.4" fill="#555">10</text>
<text transform="translate(348,212.6) scale(0.5)" font-size="7.8" fill="#555">2</text>
<text transform="translate(362.2,216.4) scale(0.5)" font-size="10.4" fill="#555">10</text>
<text transform="translate(367.9,212.6) scale(0.5)" font-size="7.8" fill="#555">3</text>
<text transform="translate(383.6,216.4) scale(0.5)" font-size="10.4" fill="#555">10</text>
<text transform="translate(389.3,212.6) scale(0.5)" font-size="7.8" fill="#555">4</text>
<rect x="395" y="121.8" width="86" height="85.6" fill="none" stroke="#8c8c8c" stroke-width="1.3"/>
<path d="M395.5,206.4 C396.47,206.27 400.71,205.86 402.4,205.5 C404.09,205.14 406.14,204.64 407.6,203.8 C409.06,202.96 411.47,200.96 412.8,199.5 C414.13,198.04 416.01,195.22 417.1,193.4 C418.19,191.58 419.75,188.68 420.6,186.5 C421.45,184.32 422.47,180.46 423.2,177.8 C423.93,175.14 425.07,170.89 425.8,167.5 C426.53,164.11 427.67,157.24 428.4,153.6 C429.13,149.96 430.29,144.52 431,141.5 C431.71,138.48 432.9,133.93 433.5,132 C434.1,130.07 434.75,128.19 435.3,127.7 C435.85,127.21 436.92,127.3 437.4,128.5 C437.88,129.7 438.27,133.02 438.7,136.3 C439.13,139.58 440.01,147.78 440.5,151.9 C440.99,156.02 441.72,162.31 442.2,165.7 C442.68,169.09 443.3,173.68 443.9,176.1 C444.5,178.52 445.77,181.8 446.5,183 C447.23,184.2 448.37,185.18 449.1,184.7 C449.83,184.22 450.97,179.95 451.7,179.6 C452.43,179.25 453.57,181.23 454.3,182.2 C455.03,183.17 456.17,184.93 456.9,186.5 C457.63,188.07 458.77,191.34 459.5,193.4 C460.23,195.46 461.25,199.51 462.1,201.2 C462.95,202.89 464.38,204.72 465.6,205.5 C466.82,206.28 469.62,206.53 470.8,206.8 C471.98,207.07 473.55,207.32 474,207.4" fill="none" stroke="#333" stroke-width="1.1" stroke-dasharray="3.2 2"/>
<path d="M395.5,206.4 C396.47,206.27 400.47,205.86 402.4,205.5 C404.33,205.14 407.59,204.4 409.3,203.8 C411.01,203.2 413.14,202.17 414.6,201.2 C416.06,200.23 418.5,198.23 419.7,196.9 C420.9,195.57 422.35,193.65 423.2,191.7 C424.05,189.75 425.07,185.91 425.8,183 C426.53,180.09 427.67,174.53 428.4,170.9 C429.13,167.27 430.29,160.98 431,157.1 C431.71,153.22 432.79,146.6 433.5,143.2 C434.21,139.8 435.48,134.86 436.1,132.8 C436.72,130.74 437.41,129.34 437.9,128.5 C438.39,127.66 439.12,126.67 439.6,126.8 C440.08,126.93 440.81,128.31 441.3,129.4 C441.79,130.49 442.61,132.42 443.1,134.6 C443.59,136.78 444.2,141.85 444.8,145 C445.4,148.15 446.67,153.71 447.4,157.1 C448.13,160.49 449.27,166.54 450,169.2 C450.73,171.86 451.87,174.41 452.6,176.1 C453.33,177.79 454.47,179.72 455.2,181.3 C455.93,182.88 457.07,185.47 457.8,187.4 C458.53,189.33 459.67,193.04 460.4,195.1 C461.13,197.16 462.16,200.64 463,202.1 C463.84,203.56 465.2,204.84 466.4,205.5 C467.6,206.16 470.4,206.53 471.6,206.8 C472.8,207.07 474.52,207.32 475,207.4" fill="none" stroke="#1a1a1a" stroke-width="1.0"/>
<line x1="395" y1="121.8" x2="395" y2="208.9" stroke="#4a4a4a" stroke-width="1.4"/>
<line x1="393" y1="207.4" x2="481.6" y2="207.4" stroke="#333" stroke-width="1.4"/>
<line x1="395" y1="207.4" x2="395" y2="209.2" stroke="#444" stroke-width="0.8"/>
<line x1="401.47" y1="207.4" x2="401.47" y2="208.4" stroke="#777" stroke-width="0.5"/>
<line x1="405.26" y1="207.4" x2="405.26" y2="208.4" stroke="#777" stroke-width="0.5"/>
<line x1="407.94" y1="207.4" x2="407.94" y2="208.4" stroke="#777" stroke-width="0.5"/>
<line x1="410.03" y1="207.4" x2="410.03" y2="208.4" stroke="#777" stroke-width="0.5"/>
<line x1="411.73" y1="207.4" x2="411.73" y2="208.4" stroke="#777" stroke-width="0.5"/>
<line x1="413.17" y1="207.4" x2="413.17" y2="208.4" stroke="#777" stroke-width="0.5"/>
<line x1="414.42" y1="207.4" x2="414.42" y2="208.4" stroke="#777" stroke-width="0.5"/>
<line x1="415.52" y1="207.4" x2="415.52" y2="208.4" stroke="#777" stroke-width="0.5"/>
<line x1="416.5" y1="207.4" x2="416.5" y2="209.2" stroke="#444" stroke-width="0.8"/>
<line x1="422.97" y1="207.4" x2="422.97" y2="208.4" stroke="#777" stroke-width="0.5"/>
<line x1="426.76" y1="207.4" x2="426.76" y2="208.4" stroke="#777" stroke-width="0.5"/>
<line x1="429.44" y1="207.4" x2="429.44" y2="208.4" stroke="#777" stroke-width="0.5"/>
<line x1="431.53" y1="207.4" x2="431.53" y2="208.4" stroke="#777" stroke-width="0.5"/>
<line x1="433.23" y1="207.4" x2="433.23" y2="208.4" stroke="#777" stroke-width="0.5"/>
<line x1="434.67" y1="207.4" x2="434.67" y2="208.4" stroke="#777" stroke-width="0.5"/>
<line x1="435.92" y1="207.4" x2="435.92" y2="208.4" stroke="#777" stroke-width="0.5"/>
<line x1="437.02" y1="207.4" x2="437.02" y2="208.4" stroke="#777" stroke-width="0.5"/>
<line x1="438" y1="207.4" x2="438" y2="209.2" stroke="#444" stroke-width="0.8"/>
<line x1="444.47" y1="207.4" x2="444.47" y2="208.4" stroke="#777" stroke-width="0.5"/>
<line x1="448.26" y1="207.4" x2="448.26" y2="208.4" stroke="#777" stroke-width="0.5"/>
<line x1="450.94" y1="207.4" x2="450.94" y2="208.4" stroke="#777" stroke-width="0.5"/>
<line x1="453.03" y1="207.4" x2="453.03" y2="208.4" stroke="#777" stroke-width="0.5"/>
<line x1="454.73" y1="207.4" x2="454.73" y2="208.4" stroke="#777" stroke-width="0.5"/>
<line x1="456.17" y1="207.4" x2="456.17" y2="208.4" stroke="#777" stroke-width="0.5"/>
<line x1="457.42" y1="207.4" x2="457.42" y2="208.4" stroke="#777" stroke-width="0.5"/>
<line x1="458.52" y1="207.4" x2="458.52" y2="208.4" stroke="#777" stroke-width="0.5"/>
<line x1="459.5" y1="207.4" x2="459.5" y2="209.2" stroke="#444" stroke-width="0.8"/>
<line x1="465.97" y1="207.4" x2="465.97" y2="208.4" stroke="#777" stroke-width="0.5"/>
<line x1="469.76" y1="207.4" x2="469.76" y2="208.4" stroke="#777" stroke-width="0.5"/>
<line x1="472.44" y1="207.4" x2="472.44" y2="208.4" stroke="#777" stroke-width="0.5"/>
<line x1="474.53" y1="207.4" x2="474.53" y2="208.4" stroke="#777" stroke-width="0.5"/>
<line x1="476.23" y1="207.4" x2="476.23" y2="208.4" stroke="#777" stroke-width="0.5"/>
<line x1="477.67" y1="207.4" x2="477.67" y2="208.4" stroke="#777" stroke-width="0.5"/>
<line x1="478.92" y1="207.4" x2="478.92" y2="208.4" stroke="#777" stroke-width="0.5"/>
<line x1="480.02" y1="207.4" x2="480.02" y2="208.4" stroke="#777" stroke-width="0.5"/>
<line x1="481" y1="207.4" x2="481" y2="209.2" stroke="#444" stroke-width="0.8"/>
<text transform="translate(396.6,216.4) scale(0.5)" font-size="10.4" fill="#555">10</text>
<text transform="translate(402.3,212.6) scale(0.5)" font-size="7.8" fill="#555">0</text>
<text transform="translate(414.1,216.4) scale(0.5)" font-size="10.4" fill="#555">10</text>
<text transform="translate(419.8,212.6) scale(0.5)" font-size="7.8" fill="#555">1</text>
<text transform="translate(436.3,216.4) scale(0.5)" font-size="10.4" fill="#555">10</text>
<text transform="translate(442,212.6) scale(0.5)" font-size="7.8" fill="#555">2</text>
<text transform="translate(456.2,216.4) scale(0.5)" font-size="10.4" fill="#555">10</text>
<text transform="translate(461.9,212.6) scale(0.5)" font-size="7.8" fill="#555">3</text>
<text transform="translate(477.6,216.4) scale(0.5)" font-size="10.4" fill="#555">10</text>
<text transform="translate(483.3,212.6) scale(0.5)" font-size="7.8" fill="#555">4</text>
<rect x="112.5" y="219.6" width="86" height="85.6" fill="none" stroke="#8c8c8c" stroke-width="1.3"/>
<path d="M113,304.1 C113.8,303.78 117.17,302.61 118.7,301.8 C120.23,300.99 122.57,299.27 123.9,298.3 C125.23,297.33 127,296.23 128.2,294.9 C129.4,293.57 131.3,290.62 132.5,288.8 C133.7,286.98 135.58,283.47 136.8,281.9 C138.02,280.33 140.11,278.93 141.2,277.6 C142.29,276.27 143.63,274.35 144.6,272.4 C145.57,270.45 147.12,266.85 148.1,263.7 C149.08,260.55 150.63,253.53 151.6,249.9 C152.57,246.27 154.16,240.22 155,237.8 C155.84,235.38 157,233.45 157.6,232.6 C158.2,231.75 158.7,231.46 159.3,231.7 C159.9,231.94 161.17,233.21 161.9,234.3 C162.63,235.39 163.77,237.32 164.5,239.5 C165.23,241.68 166.37,246.75 167.1,249.9 C167.83,253.05 168.97,258.85 169.7,262 C170.43,265.15 171.59,269.25 172.3,272.4 C173.01,275.55 174.07,281.35 174.8,284.5 C175.53,287.65 176.76,292.35 177.5,294.9 C178.24,297.45 179.37,301.3 180.1,302.7 C180.83,304.1 181.94,304.55 182.7,304.9 C183.46,305.25 185.11,305.16 185.5,305.2" fill="none" stroke="#333" stroke-width="1.1" stroke-dasharray="3.2 2"/>
<path d="M113,304.1 C113.8,303.78 117.17,302.61 118.7,301.8 C120.23,300.99 122.57,299.27 123.9,298.3 C125.23,297.33 127,296.23 128.2,294.9 C129.4,293.57 131.3,290.62 132.5,288.8 C133.7,286.98 135.58,283.47 136.8,281.9 C138.02,280.33 140.11,278.93 141.2,277.6 C142.29,276.27 143.63,274.35 144.6,272.4 C145.57,270.45 147.12,266.85 148.1,263.7 C149.08,260.55 150.63,253.78 151.6,249.9 C152.57,246.02 154.03,239.28 155,236 C155.97,232.72 157.65,227.34 158.5,226.5 C159.35,225.66 160.37,228.42 161.1,230 C161.83,231.58 162.97,235.25 163.7,237.8 C164.43,240.35 165.57,245.05 166.3,248.2 C167.03,251.35 168.17,256.67 168.9,260.3 C169.63,263.93 170.79,270.22 171.5,274.1 C172.21,277.98 173.29,284.61 174,288 C174.71,291.39 175.87,296.13 176.6,298.3 C177.33,300.47 178.35,302.58 179.2,303.5 C180.05,304.42 181.82,304.66 182.7,304.9 C183.58,305.14 185.11,305.16 185.5,305.2" fill="none" stroke="#1a1a1a" stroke-width="1.0"/>
<line x1="112.5" y1="219.6" x2="112.5" y2="306.7" stroke="#4a4a4a" stroke-width="1.4"/>
<line x1="110.5" y1="305.2" x2="199.1" y2="305.2" stroke="#333" stroke-width="1.4"/>
<line x1="112.5" y1="305.2" x2="112.5" y2="307" stroke="#444" stroke-width="0.8"/>
<line x1="118.97" y1="305.2" x2="118.97" y2="306.2" stroke="#777" stroke-width="0.5"/>
<line x1="122.76" y1="305.2" x2="122.76" y2="306.2" stroke="#777" stroke-width="0.5"/>
<line x1="125.44" y1="305.2" x2="125.44" y2="306.2" stroke="#777" stroke-width="0.5"/>
<line x1="127.53" y1="305.2" x2="127.53" y2="306.2" stroke="#777" stroke-width="0.5"/>
<line x1="129.23" y1="305.2" x2="129.23" y2="306.2" stroke="#777" stroke-width="0.5"/>
<line x1="130.67" y1="305.2" x2="130.67" y2="306.2" stroke="#777" stroke-width="0.5"/>
<line x1="131.92" y1="305.2" x2="131.92" y2="306.2" stroke="#777" stroke-width="0.5"/>
<line x1="133.02" y1="305.2" x2="133.02" y2="306.2" stroke="#777" stroke-width="0.5"/>
<line x1="134" y1="305.2" x2="134" y2="307" stroke="#444" stroke-width="0.8"/>
<line x1="140.47" y1="305.2" x2="140.47" y2="306.2" stroke="#777" stroke-width="0.5"/>
<line x1="144.26" y1="305.2" x2="144.26" y2="306.2" stroke="#777" stroke-width="0.5"/>
<line x1="146.94" y1="305.2" x2="146.94" y2="306.2" stroke="#777" stroke-width="0.5"/>
<line x1="149.03" y1="305.2" x2="149.03" y2="306.2" stroke="#777" stroke-width="0.5"/>
<line x1="150.73" y1="305.2" x2="150.73" y2="306.2" stroke="#777" stroke-width="0.5"/>
<line x1="152.17" y1="305.2" x2="152.17" y2="306.2" stroke="#777" stroke-width="0.5"/>
<line x1="153.42" y1="305.2" x2="153.42" y2="306.2" stroke="#777" stroke-width="0.5"/>
<line x1="154.52" y1="305.2" x2="154.52" y2="306.2" stroke="#777" stroke-width="0.5"/>
<line x1="155.5" y1="305.2" x2="155.5" y2="307" stroke="#444" stroke-width="0.8"/>
<line x1="161.97" y1="305.2" x2="161.97" y2="306.2" stroke="#777" stroke-width="0.5"/>
<line x1="165.76" y1="305.2" x2="165.76" y2="306.2" stroke="#777" stroke-width="0.5"/>
<line x1="168.44" y1="305.2" x2="168.44" y2="306.2" stroke="#777" stroke-width="0.5"/>
<line x1="170.53" y1="305.2" x2="170.53" y2="306.2" stroke="#777" stroke-width="0.5"/>
<line x1="172.23" y1="305.2" x2="172.23" y2="306.2" stroke="#777" stroke-width="0.5"/>
<line x1="173.67" y1="305.2" x2="173.67" y2="306.2" stroke="#777" stroke-width="0.5"/>
<line x1="174.92" y1="305.2" x2="174.92" y2="306.2" stroke="#777" stroke-width="0.5"/>
<line x1="176.02" y1="305.2" x2="176.02" y2="306.2" stroke="#777" stroke-width="0.5"/>
<line x1="177" y1="305.2" x2="177" y2="307" stroke="#444" stroke-width="0.8"/>
<line x1="183.47" y1="305.2" x2="183.47" y2="306.2" stroke="#777" stroke-width="0.5"/>
<line x1="187.26" y1="305.2" x2="187.26" y2="306.2" stroke="#777" stroke-width="0.5"/>
<line x1="189.94" y1="305.2" x2="189.94" y2="306.2" stroke="#777" stroke-width="0.5"/>
<line x1="192.03" y1="305.2" x2="192.03" y2="306.2" stroke="#777" stroke-width="0.5"/>
<line x1="193.73" y1="305.2" x2="193.73" y2="306.2" stroke="#777" stroke-width="0.5"/>
<line x1="195.17" y1="305.2" x2="195.17" y2="306.2" stroke="#777" stroke-width="0.5"/>
<line x1="196.42" y1="305.2" x2="196.42" y2="306.2" stroke="#777" stroke-width="0.5"/>
<line x1="197.52" y1="305.2" x2="197.52" y2="306.2" stroke="#777" stroke-width="0.5"/>
<line x1="198.5" y1="305.2" x2="198.5" y2="307" stroke="#444" stroke-width="0.8"/>
<text transform="translate(114.1,314.2) scale(0.5)" font-size="10.4" fill="#555">10</text>
<text transform="translate(119.8,310.4) scale(0.5)" font-size="7.8" fill="#555">0</text>
<text transform="translate(131.6,314.2) scale(0.5)" font-size="10.4" fill="#555">10</text>
<text transform="translate(137.3,310.4) scale(0.5)" font-size="7.8" fill="#555">1</text>
<text transform="translate(153.8,314.2) scale(0.5)" font-size="10.4" fill="#555">10</text>
<text transform="translate(159.5,310.4) scale(0.5)" font-size="7.8" fill="#555">2</text>
<text transform="translate(173.7,314.2) scale(0.5)" font-size="10.4" fill="#555">10</text>
<text transform="translate(179.4,310.4) scale(0.5)" font-size="7.8" fill="#555">3</text>
<text transform="translate(195.1,314.2) scale(0.5)" font-size="10.4" fill="#555">10</text>
<text transform="translate(200.8,310.4) scale(0.5)" font-size="7.8" fill="#555">4</text>
<rect x="206.5" y="219.6" width="86" height="85.6" fill="none" stroke="#8c8c8c" stroke-width="1.3"/>
<path d="M206.7,294.1 C206.76,293.97 206.62,294.31 207.1,293.2 C207.58,292.09 209.2,288.64 210.1,286.2 C211,283.76 212.53,278.95 213.5,275.8 C214.47,272.65 216.03,266.84 217,263.7 C217.97,260.56 219.55,256.55 220.4,253.4 C221.25,250.25 222.37,244.11 223.1,241.2 C223.83,238.29 224.89,234.41 225.6,232.6 C226.31,230.79 227.35,229.15 228.2,228.3 C229.05,227.45 230.72,226.26 231.7,226.5 C232.68,226.74 234.23,228.42 235.2,230 C236.17,231.58 237.63,235.5 238.6,237.8 C239.57,240.1 241.12,243.74 242.1,246.4 C243.08,249.06 244.76,254.13 245.6,256.8 C246.44,259.47 247.37,263.32 248.1,265.5 C248.83,267.68 249.95,270.47 250.8,272.4 C251.65,274.33 253.23,277.73 254.2,279.3 C255.17,280.87 256.73,282.14 257.7,283.6 C258.67,285.06 260.13,287.99 261.1,289.7 C262.07,291.41 263.63,294.23 264.6,295.8 C265.57,297.37 267.03,299.7 268,300.9 C268.97,302.1 270.59,303.8 271.5,304.4 C272.41,305 274.08,305.09 274.5,305.2" fill="none" stroke="#333" stroke-width="1.1" stroke-dasharray="3.2 2"/>
<path d="M206.7,294.1 C206.76,293.97 206.62,294.31 207.1,293.2 C207.58,292.09 209.2,288.64 210.1,286.2 C211,283.76 212.53,278.95 213.5,275.8 C214.47,272.65 216.03,267.09 217,263.7 C217.97,260.31 219.55,254.99 220.4,251.6 C221.25,248.21 222.37,242.41 223.1,239.5 C223.83,236.59 225,232.49 225.6,230.8 C226.2,229.11 226.78,227.51 227.4,227.4 C228.02,227.29 229.27,228.8 230,230 C230.73,231.2 231.87,233.94 232.6,236 C233.33,238.06 234.47,242.52 235.2,244.7 C235.93,246.88 237.09,249.42 237.8,251.6 C238.51,253.78 239.59,258.12 240.3,260.3 C241.01,262.48 242.05,265.74 242.9,267.2 C243.75,268.66 245.42,269.73 246.4,270.7 C247.38,271.67 248.93,273.13 249.9,274.1 C250.87,275.07 252.33,276.38 253.3,277.6 C254.27,278.82 255.82,281.34 256.8,282.8 C257.78,284.26 259.33,286.54 260.3,288 C261.27,289.46 262.73,291.63 263.7,293.2 C264.67,294.77 266.23,297.74 267.2,299.2 C268.17,300.66 269.76,302.8 270.6,303.6 C271.44,304.4 272.51,304.68 273.2,304.9 C273.89,305.12 275.18,305.16 275.5,305.2" fill="none" stroke="#1a1a1a" stroke-width="1.0"/>
<line x1="206.5" y1="219.6" x2="206.5" y2="306.7" stroke="#4a4a4a" stroke-width="1.4"/>
<line x1="204.5" y1="305.2" x2="293.1" y2="305.2" stroke="#333" stroke-width="1.4"/>
<line x1="206.5" y1="305.2" x2="206.5" y2="307" stroke="#444" stroke-width="0.8"/>
<line x1="212.97" y1="305.2" x2="212.97" y2="306.2" stroke="#777" stroke-width="0.5"/>
<line x1="216.76" y1="305.2" x2="216.76" y2="306.2" stroke="#777" stroke-width="0.5"/>
<line x1="219.44" y1="305.2" x2="219.44" y2="306.2" stroke="#777" stroke-width="0.5"/>
<line x1="221.53" y1="305.2" x2="221.53" y2="306.2" stroke="#777" stroke-width="0.5"/>
<line x1="223.23" y1="305.2" x2="223.23" y2="306.2" stroke="#777" stroke-width="0.5"/>
<line x1="224.67" y1="305.2" x2="224.67" y2="306.2" stroke="#777" stroke-width="0.5"/>
<line x1="225.92" y1="305.2" x2="225.92" y2="306.2" stroke="#777" stroke-width="0.5"/>
<line x1="227.02" y1="305.2" x2="227.02" y2="306.2" stroke="#777" stroke-width="0.5"/>
<line x1="228" y1="305.2" x2="228" y2="307" stroke="#444" stroke-width="0.8"/>
<line x1="234.47" y1="305.2" x2="234.47" y2="306.2" stroke="#777" stroke-width="0.5"/>
<line x1="238.26" y1="305.2" x2="238.26" y2="306.2" stroke="#777" stroke-width="0.5"/>
<line x1="240.94" y1="305.2" x2="240.94" y2="306.2" stroke="#777" stroke-width="0.5"/>
<line x1="243.03" y1="305.2" x2="243.03" y2="306.2" stroke="#777" stroke-width="0.5"/>
<line x1="244.73" y1="305.2" x2="244.73" y2="306.2" stroke="#777" stroke-width="0.5"/>
<line x1="246.17" y1="305.2" x2="246.17" y2="306.2" stroke="#777" stroke-width="0.5"/>
<line x1="247.42" y1="305.2" x2="247.42" y2="306.2" stroke="#777" stroke-width="0.5"/>
<line x1="248.52" y1="305.2" x2="248.52" y2="306.2" stroke="#777" stroke-width="0.5"/>
<line x1="249.5" y1="305.2" x2="249.5" y2="307" stroke="#444" stroke-width="0.8"/>
<line x1="255.97" y1="305.2" x2="255.97" y2="306.2" stroke="#777" stroke-width="0.5"/>
<line x1="259.76" y1="305.2" x2="259.76" y2="306.2" stroke="#777" stroke-width="0.5"/>
<line x1="262.44" y1="305.2" x2="262.44" y2="306.2" stroke="#777" stroke-width="0.5"/>
<line x1="264.53" y1="305.2" x2="264.53" y2="306.2" stroke="#777" stroke-width="0.5"/>
<line x1="266.23" y1="305.2" x2="266.23" y2="306.2" stroke="#777" stroke-width="0.5"/>
<line x1="267.67" y1="305.2" x2="267.67" y2="306.2" stroke="#777" stroke-width="0.5"/>
<line x1="268.92" y1="305.2" x2="268.92" y2="306.2" stroke="#777" stroke-width="0.5"/>
<line x1="270.02" y1="305.2" x2="270.02" y2="306.2" stroke="#777" stroke-width="0.5"/>
<line x1="271" y1="305.2" x2="271" y2="307" stroke="#444" stroke-width="0.8"/>
<line x1="277.47" y1="305.2" x2="277.47" y2="306.2" stroke="#777" stroke-width="0.5"/>
<line x1="281.26" y1="305.2" x2="281.26" y2="306.2" stroke="#777" stroke-width="0.5"/>
<line x1="283.94" y1="305.2" x2="283.94" y2="306.2" stroke="#777" stroke-width="0.5"/>
<line x1="286.03" y1="305.2" x2="286.03" y2="306.2" stroke="#777" stroke-width="0.5"/>
<line x1="287.73" y1="305.2" x2="287.73" y2="306.2" stroke="#777" stroke-width="0.5"/>
<line x1="289.17" y1="305.2" x2="289.17" y2="306.2" stroke="#777" stroke-width="0.5"/>
<line x1="290.42" y1="305.2" x2="290.42" y2="306.2" stroke="#777" stroke-width="0.5"/>
<line x1="291.52" y1="305.2" x2="291.52" y2="306.2" stroke="#777" stroke-width="0.5"/>
<line x1="292.5" y1="305.2" x2="292.5" y2="307" stroke="#444" stroke-width="0.8"/>
<text transform="translate(208.1,314.2) scale(0.5)" font-size="10.4" fill="#555">10</text>
<text transform="translate(213.8,310.4) scale(0.5)" font-size="7.8" fill="#555">0</text>
<text transform="translate(225.6,314.2) scale(0.5)" font-size="10.4" fill="#555">10</text>
<text transform="translate(231.3,310.4) scale(0.5)" font-size="7.8" fill="#555">1</text>
<text transform="translate(247.8,314.2) scale(0.5)" font-size="10.4" fill="#555">10</text>
<text transform="translate(253.5,310.4) scale(0.5)" font-size="7.8" fill="#555">2</text>
<text transform="translate(267.7,314.2) scale(0.5)" font-size="10.4" fill="#555">10</text>
<text transform="translate(273.4,310.4) scale(0.5)" font-size="7.8" fill="#555">3</text>
<text transform="translate(289.1,314.2) scale(0.5)" font-size="10.4" fill="#555">10</text>
<text transform="translate(294.8,310.4) scale(0.5)" font-size="7.8" fill="#555">4</text>
<rect x="301" y="219.6" width="86" height="85.6" fill="none" stroke="#8c8c8c" stroke-width="1.3"/>
<path d="M301,302.2 C301.08,302.14 300.96,302.35 301.6,301.8 C302.24,301.25 304.44,299.76 305.6,298.3 C306.76,296.84 308.7,293.7 309.9,291.4 C311.1,289.1 313.11,284.32 314.2,281.9 C315.29,279.48 316.85,275.67 317.7,274.1 C318.55,272.53 319.57,270.7 320.3,270.7 C321.03,270.7 322.05,272.41 322.9,274.1 C323.75,275.79 325.56,280.74 326.4,282.8 C327.24,284.86 328.06,287.6 328.9,288.8 C329.74,290 331.42,291.27 332.4,291.4 C333.38,291.53 334.93,291.18 335.9,289.7 C336.87,288.22 338.46,283.98 339.3,280.8 C340.14,277.62 341.17,271.33 341.9,267 C342.63,262.67 343.77,254.48 344.5,249.9 C345.23,245.32 346.37,237.45 347.1,234.3 C347.83,231.15 349.04,228.49 349.7,227.4 C350.36,226.31 351.2,225.66 351.8,226.5 C352.4,227.34 353.33,230.12 354,233.4 C354.67,236.68 355.87,244.93 356.6,249.9 C357.33,254.87 358.47,263.57 359.2,268.9 C359.93,274.23 361.07,283.76 361.8,288 C362.53,292.24 363.67,297.02 364.4,299.2 C365.13,301.38 366.22,302.76 367,303.6 C367.78,304.44 369.58,304.98 370,305.2" fill="none" stroke="#333" stroke-width="1.1" stroke-dasharray="3.2 2"/>
<path d="M301,302.2 C301.08,302.14 300.96,302.09 301.6,301.8 C302.24,301.51 304.44,301.07 305.6,300.1 C306.76,299.13 308.7,296.59 309.9,294.9 C311.1,293.21 313.11,289.82 314.2,288 C315.29,286.18 316.85,282.99 317.7,281.9 C318.55,280.81 319.57,279.96 320.3,280.2 C321.03,280.44 322.05,282.27 322.9,283.6 C323.75,284.93 325.56,288.36 326.4,289.7 C327.24,291.04 328.06,292.47 328.9,293.2 C329.74,293.93 331.42,294.9 332.4,294.9 C333.38,294.9 334.93,294.17 335.9,293.2 C336.87,292.23 338.46,290.18 339.3,288 C340.14,285.82 341.17,281.24 341.9,277.6 C342.63,273.96 343.77,266.61 344.5,262 C345.23,257.39 346.37,249.07 347.1,244.7 C347.83,240.33 349.03,233.35 349.7,230.8 C350.37,228.25 351.3,226.25 351.9,226.5 C352.5,226.75 353.34,229.56 354,232.6 C354.66,235.64 355.87,243.36 356.6,248.2 C357.33,253.04 358.47,261.88 359.2,267.2 C359.93,272.52 361.07,281.85 361.8,286.2 C362.53,290.55 363.67,295.88 364.4,298.3 C365.13,300.72 366.15,302.58 367,303.5 C367.85,304.42 369.66,304.66 370.5,304.9 C371.34,305.14 372.65,305.16 373,305.2" fill="none" stroke="#1a1a1a" stroke-width="1.0"/>
<line x1="301" y1="219.6" x2="301" y2="306.7" stroke="#4a4a4a" stroke-width="1.4"/>
<line x1="299" y1="305.2" x2="387.6" y2="305.2" stroke="#333" stroke-width="1.4"/>
<line x1="301" y1="305.2" x2="301" y2="307" stroke="#444" stroke-width="0.8"/>
<line x1="307.47" y1="305.2" x2="307.47" y2="306.2" stroke="#777" stroke-width="0.5"/>
<line x1="311.26" y1="305.2" x2="311.26" y2="306.2" stroke="#777" stroke-width="0.5"/>
<line x1="313.94" y1="305.2" x2="313.94" y2="306.2" stroke="#777" stroke-width="0.5"/>
<line x1="316.03" y1="305.2" x2="316.03" y2="306.2" stroke="#777" stroke-width="0.5"/>
<line x1="317.73" y1="305.2" x2="317.73" y2="306.2" stroke="#777" stroke-width="0.5"/>
<line x1="319.17" y1="305.2" x2="319.17" y2="306.2" stroke="#777" stroke-width="0.5"/>
<line x1="320.42" y1="305.2" x2="320.42" y2="306.2" stroke="#777" stroke-width="0.5"/>
<line x1="321.52" y1="305.2" x2="321.52" y2="306.2" stroke="#777" stroke-width="0.5"/>
<line x1="322.5" y1="305.2" x2="322.5" y2="307" stroke="#444" stroke-width="0.8"/>
<line x1="328.97" y1="305.2" x2="328.97" y2="306.2" stroke="#777" stroke-width="0.5"/>
<line x1="332.76" y1="305.2" x2="332.76" y2="306.2" stroke="#777" stroke-width="0.5"/>
<line x1="335.44" y1="305.2" x2="335.44" y2="306.2" stroke="#777" stroke-width="0.5"/>
<line x1="337.53" y1="305.2" x2="337.53" y2="306.2" stroke="#777" stroke-width="0.5"/>
<line x1="339.23" y1="305.2" x2="339.23" y2="306.2" stroke="#777" stroke-width="0.5"/>
<line x1="340.67" y1="305.2" x2="340.67" y2="306.2" stroke="#777" stroke-width="0.5"/>
<line x1="341.92" y1="305.2" x2="341.92" y2="306.2" stroke="#777" stroke-width="0.5"/>
<line x1="343.02" y1="305.2" x2="343.02" y2="306.2" stroke="#777" stroke-width="0.5"/>
<line x1="344" y1="305.2" x2="344" y2="307" stroke="#444" stroke-width="0.8"/>
<line x1="350.47" y1="305.2" x2="350.47" y2="306.2" stroke="#777" stroke-width="0.5"/>
<line x1="354.26" y1="305.2" x2="354.26" y2="306.2" stroke="#777" stroke-width="0.5"/>
<line x1="356.94" y1="305.2" x2="356.94" y2="306.2" stroke="#777" stroke-width="0.5"/>
<line x1="359.03" y1="305.2" x2="359.03" y2="306.2" stroke="#777" stroke-width="0.5"/>
<line x1="360.73" y1="305.2" x2="360.73" y2="306.2" stroke="#777" stroke-width="0.5"/>
<line x1="362.17" y1="305.2" x2="362.17" y2="306.2" stroke="#777" stroke-width="0.5"/>
<line x1="363.42" y1="305.2" x2="363.42" y2="306.2" stroke="#777" stroke-width="0.5"/>
<line x1="364.52" y1="305.2" x2="364.52" y2="306.2" stroke="#777" stroke-width="0.5"/>
<line x1="365.5" y1="305.2" x2="365.5" y2="307" stroke="#444" stroke-width="0.8"/>
<line x1="371.97" y1="305.2" x2="371.97" y2="306.2" stroke="#777" stroke-width="0.5"/>
<line x1="375.76" y1="305.2" x2="375.76" y2="306.2" stroke="#777" stroke-width="0.5"/>
<line x1="378.44" y1="305.2" x2="378.44" y2="306.2" stroke="#777" stroke-width="0.5"/>
<line x1="380.53" y1="305.2" x2="380.53" y2="306.2" stroke="#777" stroke-width="0.5"/>
<line x1="382.23" y1="305.2" x2="382.23" y2="306.2" stroke="#777" stroke-width="0.5"/>
<line x1="383.67" y1="305.2" x2="383.67" y2="306.2" stroke="#777" stroke-width="0.5"/>
<line x1="384.92" y1="305.2" x2="384.92" y2="306.2" stroke="#777" stroke-width="0.5"/>
<line x1="386.02" y1="305.2" x2="386.02" y2="306.2" stroke="#777" stroke-width="0.5"/>
<line x1="387" y1="305.2" x2="387" y2="307" stroke="#444" stroke-width="0.8"/>
<text transform="translate(302.6,314.2) scale(0.5)" font-size="10.4" fill="#555">10</text>
<text transform="translate(308.3,310.4) scale(0.5)" font-size="7.8" fill="#555">0</text>
<text transform="translate(320.1,314.2) scale(0.5)" font-size="10.4" fill="#555">10</text>
<text transform="translate(325.8,310.4) scale(0.5)" font-size="7.8" fill="#555">1</text>
<text transform="translate(342.3,314.2) scale(0.5)" font-size="10.4" fill="#555">10</text>
<text transform="translate(348,310.4) scale(0.5)" font-size="7.8" fill="#555">2</text>
<text transform="translate(362.2,314.2) scale(0.5)" font-size="10.4" fill="#555">10</text>
<text transform="translate(367.9,310.4) scale(0.5)" font-size="7.8" fill="#555">3</text>
<text transform="translate(383.6,314.2) scale(0.5)" font-size="10.4" fill="#555">10</text>
<text transform="translate(389.3,310.4) scale(0.5)" font-size="7.8" fill="#555">4</text>
<rect x="395" y="219.6" width="86" height="85.6" fill="none" stroke="#8c8c8c" stroke-width="1.3"/>
<path d="M395.5,304.4 C396.47,304.27 400.47,303.99 402.4,303.5 C404.33,303.01 407.61,301.87 409.3,300.9 C410.99,299.93 413.17,298.17 414.5,296.6 C415.83,295.03 417.58,291.63 418.8,289.7 C420.02,287.77 422.11,284.98 423.2,282.8 C424.29,280.62 425.76,277.01 426.6,274.1 C427.44,271.19 428.47,265.88 429.2,262 C429.93,258.12 431.07,250.28 431.8,246.4 C432.53,242.52 433.67,236.96 434.4,234.3 C435.13,231.64 436.34,228.73 437,227.4 C437.66,226.07 438.37,224.67 439.1,224.8 C439.83,224.93 441.28,227.1 442.2,228.3 C443.12,229.5 444.73,231.83 445.7,233.4 C446.67,234.97 448.13,237.92 449.1,239.5 C450.07,241.08 451.62,243.48 452.6,244.7 C453.58,245.92 455.13,247.23 456.1,248.2 C457.07,249.17 458.66,250.63 459.5,251.6 C460.34,252.57 461.5,253.41 462.1,255.1 C462.7,256.79 463.31,260.8 463.8,263.7 C464.29,266.6 465.11,272.4 465.6,275.8 C466.09,279.2 466.82,285.09 467.3,288 C467.78,290.91 468.4,294.54 469,296.6 C469.6,298.66 470.76,301.55 471.6,302.7 C472.44,303.85 474.1,304.45 475,304.8 C475.9,305.15 477.58,305.14 478,305.2" fill="none" stroke="#333" stroke-width="1.1" stroke-dasharray="3.2 2"/>
<path d="M395.5,304.4 C396.47,304.27 400.47,303.86 402.4,303.5 C404.33,303.14 407.61,302.4 409.3,301.8 C410.99,301.2 413.04,300.17 414.5,299.2 C415.96,298.23 418.37,296.23 419.7,294.9 C421.03,293.57 422.91,291.39 424,289.7 C425.09,288.01 426.65,285.22 427.5,282.8 C428.35,280.38 429.37,275.8 430.1,272.4 C430.83,269 431.97,262.62 432.7,258.5 C433.43,254.38 434.64,246.63 435.3,243 C435.96,239.37 436.87,234.78 437.4,232.6 C437.93,230.42 438.67,228.49 439.1,227.4 C439.53,226.31 440.01,224.8 440.5,224.8 C440.99,224.8 442,226.56 442.6,227.4 C443.2,228.24 444.18,229.34 444.8,230.8 C445.42,232.26 446.4,235.85 447,237.8 C447.6,239.75 448.44,242.77 449.1,244.7 C449.76,246.63 450.97,249.91 451.7,251.6 C452.43,253.29 453.57,255.34 454.3,256.8 C455.03,258.26 456.17,260.78 456.9,262 C457.63,263.22 458.77,264.04 459.5,265.5 C460.23,266.96 461.37,269.74 462.1,272.4 C462.83,275.06 463.97,281.59 464.7,284.5 C465.43,287.41 466.57,291.14 467.3,293.2 C468.03,295.26 469.06,297.76 469.9,299.2 C470.74,300.64 472.33,302.7 473.3,303.5 C474.27,304.3 476,304.66 476.8,304.9 C477.6,305.14 478.69,305.16 479,305.2" fill="none" stroke="#1a1a1a" stroke-width="1.0"/>
<line x1="395" y1="219.6" x2="395" y2="306.7" stroke="#4a4a4a" stroke-width="1.4"/>
<line x1="393" y1="305.2" x2="481.6" y2="305.2" stroke="#333" stroke-width="1.4"/>
<line x1="395" y1="305.2" x2="395" y2="307" stroke="#444" stroke-width="0.8"/>
<line x1="401.47" y1="305.2" x2="401.47" y2="306.2" stroke="#777" stroke-width="0.5"/>
<line x1="405.26" y1="305.2" x2="405.26" y2="306.2" stroke="#777" stroke-width="0.5"/>
<line x1="407.94" y1="305.2" x2="407.94" y2="306.2" stroke="#777" stroke-width="0.5"/>
<line x1="410.03" y1="305.2" x2="410.03" y2="306.2" stroke="#777" stroke-width="0.5"/>
<line x1="411.73" y1="305.2" x2="411.73" y2="306.2" stroke="#777" stroke-width="0.5"/>
<line x1="413.17" y1="305.2" x2="413.17" y2="306.2" stroke="#777" stroke-width="0.5"/>
<line x1="414.42" y1="305.2" x2="414.42" y2="306.2" stroke="#777" stroke-width="0.5"/>
<line x1="415.52" y1="305.2" x2="415.52" y2="306.2" stroke="#777" stroke-width="0.5"/>
<line x1="416.5" y1="305.2" x2="416.5" y2="307" stroke="#444" stroke-width="0.8"/>
<line x1="422.97" y1="305.2" x2="422.97" y2="306.2" stroke="#777" stroke-width="0.5"/>
<line x1="426.76" y1="305.2" x2="426.76" y2="306.2" stroke="#777" stroke-width="0.5"/>
<line x1="429.44" y1="305.2" x2="429.44" y2="306.2" stroke="#777" stroke-width="0.5"/>
<line x1="431.53" y1="305.2" x2="431.53" y2="306.2" stroke="#777" stroke-width="0.5"/>
<line x1="433.23" y1="305.2" x2="433.23" y2="306.2" stroke="#777" stroke-width="0.5"/>
<line x1="434.67" y1="305.2" x2="434.67" y2="306.2" stroke="#777" stroke-width="0.5"/>
<line x1="435.92" y1="305.2" x2="435.92" y2="306.2" stroke="#777" stroke-width="0.5"/>
<line x1="437.02" y1="305.2" x2="437.02" y2="306.2" stroke="#777" stroke-width="0.5"/>
<line x1="438" y1="305.2" x2="438" y2="307" stroke="#444" stroke-width="0.8"/>
<line x1="444.47" y1="305.2" x2="444.47" y2="306.2" stroke="#777" stroke-width="0.5"/>
<line x1="448.26" y1="305.2" x2="448.26" y2="306.2" stroke="#777" stroke-width="0.5"/>
<line x1="450.94" y1="305.2" x2="450.94" y2="306.2" stroke="#777" stroke-width="0.5"/>
<line x1="453.03" y1="305.2" x2="453.03" y2="306.2" stroke="#777" stroke-width="0.5"/>
<line x1="454.73" y1="305.2" x2="454.73" y2="306.2" stroke="#777" stroke-width="0.5"/>
<line x1="456.17" y1="305.2" x2="456.17" y2="306.2" stroke="#777" stroke-width="0.5"/>
<line x1="457.42" y1="305.2" x2="457.42" y2="306.2" stroke="#777" stroke-width="0.5"/>
<line x1="458.52" y1="305.2" x2="458.52" y2="306.2" stroke="#777" stroke-width="0.5"/>
<line x1="459.5" y1="305.2" x2="459.5" y2="307" stroke="#444" stroke-width="0.8"/>
<line x1="465.97" y1="305.2" x2="465.97" y2="306.2" stroke="#777" stroke-width="0.5"/>
<line x1="469.76" y1="305.2" x2="469.76" y2="306.2" stroke="#777" stroke-width="0.5"/>
<line x1="472.44" y1="305.2" x2="472.44" y2="306.2" stroke="#777" stroke-width="0.5"/>
<line x1="474.53" y1="305.2" x2="474.53" y2="306.2" stroke="#777" stroke-width="0.5"/>
<line x1="476.23" y1="305.2" x2="476.23" y2="306.2" stroke="#777" stroke-width="0.5"/>
<line x1="477.67" y1="305.2" x2="477.67" y2="306.2" stroke="#777" stroke-width="0.5"/>
<line x1="478.92" y1="305.2" x2="478.92" y2="306.2" stroke="#777" stroke-width="0.5"/>
<line x1="480.02" y1="305.2" x2="480.02" y2="306.2" stroke="#777" stroke-width="0.5"/>
<line x1="481" y1="305.2" x2="481" y2="307" stroke="#444" stroke-width="0.8"/>
<text transform="translate(396.6,314.2) scale(0.5)" font-size="10.4" fill="#555">10</text>
<text transform="translate(402.3,310.4) scale(0.5)" font-size="7.8" fill="#555">0</text>
<text transform="translate(414.1,314.2) scale(0.5)" font-size="10.4" fill="#555">10</text>
<text transform="translate(419.8,310.4) scale(0.5)" font-size="7.8" fill="#555">1</text>
<text transform="translate(436.3,314.2) scale(0.5)" font-size="10.4" fill="#555">10</text>
<text transform="translate(442,310.4) scale(0.5)" font-size="7.8" fill="#555">2</text>
<text transform="translate(456.2,314.2) scale(0.5)" font-size="10.4" fill="#555">10</text>
<text transform="translate(461.9,310.4) scale(0.5)" font-size="7.8" fill="#555">3</text>
<text transform="translate(477.6,314.2) scale(0.5)" font-size="10.4" fill="#555">10</text>
<text transform="translate(483.3,310.4) scale(0.5)" font-size="7.8" fill="#555">4</text>
<rect x="112.5" y="317.9" width="86" height="85.6" fill="none" stroke="#8c8c8c" stroke-width="1.3"/>
<path d="M113,402.5 C114.04,402.36 118.4,401.93 120.4,401.5 C122.4,401.07 125.37,400.07 127.3,399.4 C129.23,398.73 132.74,397.18 134.2,396.7 C135.66,396.22 136.48,396.06 137.7,396 C138.92,395.94 141.68,396.34 142.9,396.3 C144.12,396.26 145.18,396.13 146.4,395.7 C147.62,395.27 150.27,394.15 151.6,393.2 C152.93,392.25 154.93,390.2 155.9,388.9 C156.87,387.6 157.9,385.58 158.5,383.9 C159.1,382.22 159.72,379.76 160.2,376.9 C160.68,374.04 161.41,367.56 161.9,363.5 C162.39,359.44 163.21,352.03 163.7,347.9 C164.19,343.77 164.94,337 165.4,334 C165.86,331 166.58,327.94 167,326.5 C167.42,325.06 168.01,323.7 168.4,323.7 C168.79,323.7 169.32,324.57 169.8,326.5 C170.28,328.43 171.32,333.78 171.8,337.5 C172.28,341.22 172.84,348.26 173.2,353.1 C173.56,357.94 174.04,367.26 174.4,372.1 C174.76,376.94 175.37,384.06 175.8,387.7 C176.23,391.34 177.02,396.04 177.5,398.1 C177.98,400.16 178.64,401.64 179.2,402.4 C179.76,403.16 181.18,403.35 181.5,403.5" fill="none" stroke="#333" stroke-width="1.1" stroke-dasharray="3.2 2"/>
<path d="M113,402.5 C114.04,402.36 118.4,401.88 120.4,401.5 C122.4,401.12 125.37,400.28 127.3,399.8 C129.23,399.32 132.25,398.39 134.2,398.1 C136.15,397.81 139.49,397.95 141.2,397.7 C142.91,397.45 144.94,396.86 146.4,396.3 C147.86,395.74 150.27,394.67 151.6,393.7 C152.93,392.73 154.93,390.73 155.9,389.4 C156.87,388.07 157.9,385.89 158.5,384.2 C159.1,382.51 159.72,380.2 160.2,377.3 C160.68,374.4 161.41,367.62 161.9,363.5 C162.39,359.38 163.21,352.03 163.7,347.9 C164.19,343.77 164.94,337 165.4,334 C165.86,331 166.58,327.94 167,326.5 C167.42,325.06 168.01,323.7 168.4,323.7 C168.79,323.7 169.32,324.57 169.8,326.5 C170.28,328.43 171.32,333.78 171.8,337.5 C172.28,341.22 172.84,348.26 173.2,353.1 C173.56,357.94 174.04,367.26 174.4,372.1 C174.76,376.94 175.37,384.06 175.8,387.7 C176.23,391.34 177.02,396.04 177.5,398.1 C177.98,400.16 178.64,401.64 179.2,402.4 C179.76,403.16 181.18,403.35 181.5,403.5" fill="none" stroke="#1a1a1a" stroke-width="1.0"/>
<line x1="112.5" y1="317.9" x2="112.5" y2="405" stroke="#4a4a4a" stroke-width="1.4"/>
<line x1="110.5" y1="403.5" x2="199.1" y2="403.5" stroke="#333" stroke-width="1.4"/>
<line x1="112.5" y1="403.5" x2="112.5" y2="405.3" stroke="#444" stroke-width="0.8"/>
<line x1="118.97" y1="403.5" x2="118.97" y2="404.5" stroke="#777" stroke-width="0.5"/>
<line x1="122.76" y1="403.5" x2="122.76" y2="404.5" stroke="#777" stroke-width="0.5"/>
<line x1="125.44" y1="403.5" x2="125.44" y2="404.5" stroke="#777" stroke-width="0.5"/>
<line x1="127.53" y1="403.5" x2="127.53" y2="404.5" stroke="#777" stroke-width="0.5"/>
<line x1="129.23" y1="403.5" x2="129.23" y2="404.5" stroke="#777" stroke-width="0.5"/>
<line x1="130.67" y1="403.5" x2="130.67" y2="404.5" stroke="#777" stroke-width="0.5"/>
<line x1="131.92" y1="403.5" x2="131.92" y2="404.5" stroke="#777" stroke-width="0.5"/>
<line x1="133.02" y1="403.5" x2="133.02" y2="404.5" stroke="#777" stroke-width="0.5"/>
<line x1="134" y1="403.5" x2="134" y2="405.3" stroke="#444" stroke-width="0.8"/>
<line x1="140.47" y1="403.5" x2="140.47" y2="404.5" stroke="#777" stroke-width="0.5"/>
<line x1="144.26" y1="403.5" x2="144.26" y2="404.5" stroke="#777" stroke-width="0.5"/>
<line x1="146.94" y1="403.5" x2="146.94" y2="404.5" stroke="#777" stroke-width="0.5"/>
<line x1="149.03" y1="403.5" x2="149.03" y2="404.5" stroke="#777" stroke-width="0.5"/>
<line x1="150.73" y1="403.5" x2="150.73" y2="404.5" stroke="#777" stroke-width="0.5"/>
<line x1="152.17" y1="403.5" x2="152.17" y2="404.5" stroke="#777" stroke-width="0.5"/>
<line x1="153.42" y1="403.5" x2="153.42" y2="404.5" stroke="#777" stroke-width="0.5"/>
<line x1="154.52" y1="403.5" x2="154.52" y2="404.5" stroke="#777" stroke-width="0.5"/>
<line x1="155.5" y1="403.5" x2="155.5" y2="405.3" stroke="#444" stroke-width="0.8"/>
<line x1="161.97" y1="403.5" x2="161.97" y2="404.5" stroke="#777" stroke-width="0.5"/>
<line x1="165.76" y1="403.5" x2="165.76" y2="404.5" stroke="#777" stroke-width="0.5"/>
<line x1="168.44" y1="403.5" x2="168.44" y2="404.5" stroke="#777" stroke-width="0.5"/>
<line x1="170.53" y1="403.5" x2="170.53" y2="404.5" stroke="#777" stroke-width="0.5"/>
<line x1="172.23" y1="403.5" x2="172.23" y2="404.5" stroke="#777" stroke-width="0.5"/>
<line x1="173.67" y1="403.5" x2="173.67" y2="404.5" stroke="#777" stroke-width="0.5"/>
<line x1="174.92" y1="403.5" x2="174.92" y2="404.5" stroke="#777" stroke-width="0.5"/>
<line x1="176.02" y1="403.5" x2="176.02" y2="404.5" stroke="#777" stroke-width="0.5"/>
<line x1="177" y1="403.5" x2="177" y2="405.3" stroke="#444" stroke-width="0.8"/>
<line x1="183.47" y1="403.5" x2="183.47" y2="404.5" stroke="#777" stroke-width="0.5"/>
<line x1="187.26" y1="403.5" x2="187.26" y2="404.5" stroke="#777" stroke-width="0.5"/>
<line x1="189.94" y1="403.5" x2="189.94" y2="404.5" stroke="#777" stroke-width="0.5"/>
<line x1="192.03" y1="403.5" x2="192.03" y2="404.5" stroke="#777" stroke-width="0.5"/>
<line x1="193.73" y1="403.5" x2="193.73" y2="404.5" stroke="#777" stroke-width="0.5"/>
<line x1="195.17" y1="403.5" x2="195.17" y2="404.5" stroke="#777" stroke-width="0.5"/>
<line x1="196.42" y1="403.5" x2="196.42" y2="404.5" stroke="#777" stroke-width="0.5"/>
<line x1="197.52" y1="403.5" x2="197.52" y2="404.5" stroke="#777" stroke-width="0.5"/>
<line x1="198.5" y1="403.5" x2="198.5" y2="405.3" stroke="#444" stroke-width="0.8"/>
<text transform="translate(114.1,412.5) scale(0.5)" font-size="10.4" fill="#555">10</text>
<text transform="translate(119.8,408.7) scale(0.5)" font-size="7.8" fill="#555">0</text>
<text transform="translate(131.6,412.5) scale(0.5)" font-size="10.4" fill="#555">10</text>
<text transform="translate(137.3,408.7) scale(0.5)" font-size="7.8" fill="#555">1</text>
<text transform="translate(153.8,412.5) scale(0.5)" font-size="10.4" fill="#555">10</text>
<text transform="translate(159.5,408.7) scale(0.5)" font-size="7.8" fill="#555">2</text>
<text transform="translate(173.7,412.5) scale(0.5)" font-size="10.4" fill="#555">10</text>
<text transform="translate(179.4,408.7) scale(0.5)" font-size="7.8" fill="#555">3</text>
<text transform="translate(195.1,412.5) scale(0.5)" font-size="10.4" fill="#555">10</text>
<text transform="translate(200.8,408.7) scale(0.5)" font-size="7.8" fill="#555">4</text>
<rect x="206.5" y="317.9" width="86" height="85.6" fill="none" stroke="#8c8c8c" stroke-width="1.3"/>
<path d="M207,402.4 C207.8,401.8 211.17,399.19 212.7,398.1 C214.23,397.01 216.44,395.82 217.9,394.6 C219.36,393.38 221.66,390.97 223.1,389.4 C224.54,387.83 226.87,385.58 228.2,383.4 C229.53,381.22 231.51,376.84 232.6,373.8 C233.69,370.76 235.16,365.33 236,361.7 C236.84,358.07 237.87,351.78 238.6,347.9 C239.33,344.02 240.51,337.04 241.2,334 C241.89,330.96 242.94,327.45 243.5,326.2 C244.06,324.95 244.72,324.85 245.2,325.1 C245.68,325.35 246.41,326.26 246.9,328 C247.39,329.74 248.21,333.99 248.7,337.5 C249.19,341.01 249.92,348.49 250.4,353.1 C250.88,357.71 251.57,366.05 252.1,370.4 C252.63,374.75 253.54,381.05 254.2,384.2 C254.86,387.35 255.95,390.95 256.8,392.9 C257.65,394.85 259.21,396.94 260.3,398.1 C261.39,399.26 263.27,400.57 264.6,401.2 C265.93,401.83 268.41,402.28 269.8,402.6 C271.19,402.92 273.84,403.37 274.5,403.5" fill="none" stroke="#333" stroke-width="1.1" stroke-dasharray="3.2 2"/>
<path d="M207,402.4 C207.8,402.04 211.17,400.65 212.7,399.8 C214.23,398.95 216.44,397.39 217.9,396.3 C219.36,395.21 221.66,393.44 223.1,392 C224.54,390.56 226.87,388.06 228.2,386 C229.53,383.94 231.51,379.97 232.6,377.3 C233.69,374.63 235.16,370.29 236,366.9 C236.84,363.51 237.87,356.98 238.6,353.1 C239.33,349.22 240.51,342.6 241.2,339.2 C241.89,335.8 242.94,330.73 243.5,328.8 C244.06,326.87 244.72,325.51 245.2,325.4 C245.68,325.29 246.41,326.31 246.9,328 C247.39,329.69 248.21,333.99 248.7,337.5 C249.19,341.01 249.92,348.49 250.4,353.1 C250.88,357.71 251.57,366.05 252.1,370.4 C252.63,374.75 253.54,381.05 254.2,384.2 C254.86,387.35 255.95,390.95 256.8,392.9 C257.65,394.85 259.21,396.94 260.3,398.1 C261.39,399.26 263.27,400.57 264.6,401.2 C265.93,401.83 268.41,402.28 269.8,402.6 C271.19,402.92 273.84,403.37 274.5,403.5" fill="none" stroke="#1a1a1a" stroke-width="1.0"/>
<line x1="206.5" y1="317.9" x2="206.5" y2="405" stroke="#4a4a4a" stroke-width="1.4"/>
<line x1="204.5" y1="403.5" x2="293.1" y2="403.5" stroke="#333" stroke-width="1.4"/>
<line x1="206.5" y1="403.5" x2="206.5" y2="405.3" stroke="#444" stroke-width="0.8"/>
<line x1="212.97" y1="403.5" x2="212.97" y2="404.5" stroke="#777" stroke-width="0.5"/>
<line x1="216.76" y1="403.5" x2="216.76" y2="404.5" stroke="#777" stroke-width="0.5"/>
<line x1="219.44" y1="403.5" x2="219.44" y2="404.5" stroke="#777" stroke-width="0.5"/>
<line x1="221.53" y1="403.5" x2="221.53" y2="404.5" stroke="#777" stroke-width="0.5"/>
<line x1="223.23" y1="403.5" x2="223.23" y2="404.5" stroke="#777" stroke-width="0.5"/>
<line x1="224.67" y1="403.5" x2="224.67" y2="404.5" stroke="#777" stroke-width="0.5"/>
<line x1="225.92" y1="403.5" x2="225.92" y2="404.5" stroke="#777" stroke-width="0.5"/>
<line x1="227.02" y1="403.5" x2="227.02" y2="404.5" stroke="#777" stroke-width="0.5"/>
<line x1="228" y1="403.5" x2="228" y2="405.3" stroke="#444" stroke-width="0.8"/>
<line x1="234.47" y1="403.5" x2="234.47" y2="404.5" stroke="#777" stroke-width="0.5"/>
<line x1="238.26" y1="403.5" x2="238.26" y2="404.5" stroke="#777" stroke-width="0.5"/>
<line x1="240.94" y1="403.5" x2="240.94" y2="404.5" stroke="#777" stroke-width="0.5"/>
<line x1="243.03" y1="403.5" x2="243.03" y2="404.5" stroke="#777" stroke-width="0.5"/>
<line x1="244.73" y1="403.5" x2="244.73" y2="404.5" stroke="#777" stroke-width="0.5"/>
<line x1="246.17" y1="403.5" x2="246.17" y2="404.5" stroke="#777" stroke-width="0.5"/>
<line x1="247.42" y1="403.5" x2="247.42" y2="404.5" stroke="#777" stroke-width="0.5"/>
<line x1="248.52" y1="403.5" x2="248.52" y2="404.5" stroke="#777" stroke-width="0.5"/>
<line x1="249.5" y1="403.5" x2="249.5" y2="405.3" stroke="#444" stroke-width="0.8"/>
<line x1="255.97" y1="403.5" x2="255.97" y2="404.5" stroke="#777" stroke-width="0.5"/>
<line x1="259.76" y1="403.5" x2="259.76" y2="404.5" stroke="#777" stroke-width="0.5"/>
<line x1="262.44" y1="403.5" x2="262.44" y2="404.5" stroke="#777" stroke-width="0.5"/>
<line x1="264.53" y1="403.5" x2="264.53" y2="404.5" stroke="#777" stroke-width="0.5"/>
<line x1="266.23" y1="403.5" x2="266.23" y2="404.5" stroke="#777" stroke-width="0.5"/>
<line x1="267.67" y1="403.5" x2="267.67" y2="404.5" stroke="#777" stroke-width="0.5"/>
<line x1="268.92" y1="403.5" x2="268.92" y2="404.5" stroke="#777" stroke-width="0.5"/>
<line x1="270.02" y1="403.5" x2="270.02" y2="404.5" stroke="#777" stroke-width="0.5"/>
<line x1="271" y1="403.5" x2="271" y2="405.3" stroke="#444" stroke-width="0.8"/>
<line x1="277.47" y1="403.5" x2="277.47" y2="404.5" stroke="#777" stroke-width="0.5"/>
<line x1="281.26" y1="403.5" x2="281.26" y2="404.5" stroke="#777" stroke-width="0.5"/>
<line x1="283.94" y1="403.5" x2="283.94" y2="404.5" stroke="#777" stroke-width="0.5"/>
<line x1="286.03" y1="403.5" x2="286.03" y2="404.5" stroke="#777" stroke-width="0.5"/>
<line x1="287.73" y1="403.5" x2="287.73" y2="404.5" stroke="#777" stroke-width="0.5"/>
<line x1="289.17" y1="403.5" x2="289.17" y2="404.5" stroke="#777" stroke-width="0.5"/>
<line x1="290.42" y1="403.5" x2="290.42" y2="404.5" stroke="#777" stroke-width="0.5"/>
<line x1="291.52" y1="403.5" x2="291.52" y2="404.5" stroke="#777" stroke-width="0.5"/>
<line x1="292.5" y1="403.5" x2="292.5" y2="405.3" stroke="#444" stroke-width="0.8"/>
<text transform="translate(208.1,412.5) scale(0.5)" font-size="10.4" fill="#555">10</text>
<text transform="translate(213.8,408.7) scale(0.5)" font-size="7.8" fill="#555">0</text>
<text transform="translate(225.6,412.5) scale(0.5)" font-size="10.4" fill="#555">10</text>
<text transform="translate(231.3,408.7) scale(0.5)" font-size="7.8" fill="#555">1</text>
<text transform="translate(247.8,412.5) scale(0.5)" font-size="10.4" fill="#555">10</text>
<text transform="translate(253.5,408.7) scale(0.5)" font-size="7.8" fill="#555">2</text>
<text transform="translate(267.7,412.5) scale(0.5)" font-size="10.4" fill="#555">10</text>
<text transform="translate(273.4,408.7) scale(0.5)" font-size="7.8" fill="#555">3</text>
<text transform="translate(289.1,412.5) scale(0.5)" font-size="10.4" fill="#555">10</text>
<text transform="translate(294.8,408.7) scale(0.5)" font-size="7.8" fill="#555">4</text>
<rect x="301" y="317.9" width="86" height="85.6" fill="none" stroke="#8c8c8c" stroke-width="1.3"/>
<path d="M301,396.7 C301.08,396.64 301.08,396.96 301.6,396.3 C302.12,395.64 303.78,393.93 304.7,392 C305.62,390.07 307.23,385.78 308.2,382.5 C309.17,379.22 310.76,372.48 311.6,368.6 C312.44,364.72 313.47,358.66 314.2,354.8 C314.93,350.94 316.07,344.51 316.8,341 C317.53,337.49 318.67,331.84 319.4,329.7 C320.13,327.56 321.38,325.57 322,325.7 C322.62,325.83 323.31,328.22 323.8,330.6 C324.29,332.98 325.02,338.82 325.5,342.7 C325.98,346.58 326.72,354.18 327.2,358.3 C327.68,362.42 328.3,368.84 328.9,372.1 C329.5,375.36 330.65,379.65 331.5,381.6 C332.35,383.55 333.91,384.91 335,386 C336.09,387.09 338.08,388.69 339.3,389.4 C340.52,390.11 342.5,390.74 343.7,391.1 C344.9,391.46 346.81,391.51 347.9,392 C348.99,392.49 350.63,393.63 351.5,394.6 C352.37,395.57 353.39,397.81 354.1,398.9 C354.81,399.99 355.91,401.76 356.6,402.4 C357.29,403.04 358.66,403.35 359,403.5" fill="none" stroke="#333" stroke-width="1.1" stroke-dasharray="3.2 2"/>
<path d="M301,399.2 C301.08,399.16 301.08,399.18 301.6,398.9 C302.12,398.62 303.78,398.29 304.7,397.2 C305.62,396.11 307.23,393.4 308.2,391.1 C309.17,388.8 310.76,384.19 311.6,380.8 C312.44,377.41 313.47,371.03 314.2,366.9 C314.93,362.77 316.07,355.42 316.8,351.3 C317.53,347.18 318.67,340.89 319.4,337.5 C320.13,334.11 321.44,328.79 322,327.1 C322.56,325.41 322.91,324.43 323.4,325.4 C323.89,326.37 324.97,331.1 325.5,334 C326.03,336.9 326.72,342.46 327.2,346.1 C327.68,349.74 328.37,356.36 328.9,360 C329.43,363.64 330.27,369.55 331,372.1 C331.73,374.65 333.18,376.87 334.1,378.2 C335.02,379.53 336.63,380.76 337.6,381.6 C338.57,382.44 340.03,383.71 341,384.2 C341.97,384.69 343.53,384.97 344.5,385.1 C345.47,385.23 347.05,385.23 347.9,385.1 C348.75,384.97 349.91,383.6 350.6,384.2 C351.29,384.8 352.2,387.58 352.8,389.4 C353.4,391.22 354.37,395.38 354.9,397.2 C355.43,399.02 356.03,401.52 356.6,402.4 C357.17,403.28 358.66,403.35 359,403.5" fill="none" stroke="#1a1a1a" stroke-width="1.0"/>
<line x1="301" y1="317.9" x2="301" y2="405" stroke="#4a4a4a" stroke-width="1.4"/>
<line x1="299" y1="403.5" x2="387.6" y2="403.5" stroke="#333" stroke-width="1.4"/>
<line x1="301" y1="403.5" x2="301" y2="405.3" stroke="#444" stroke-width="0.8"/>
<line x1="307.47" y1="403.5" x2="307.47" y2="404.5" stroke="#777" stroke-width="0.5"/>
<line x1="311.26" y1="403.5" x2="311.26" y2="404.5" stroke="#777" stroke-width="0.5"/>
<line x1="313.94" y1="403.5" x2="313.94" y2="404.5" stroke="#777" stroke-width="0.5"/>
<line x1="316.03" y1="403.5" x2="316.03" y2="404.5" stroke="#777" stroke-width="0.5"/>
<line x1="317.73" y1="403.5" x2="317.73" y2="404.5" stroke="#777" stroke-width="0.5"/>
<line x1="319.17" y1="403.5" x2="319.17" y2="404.5" stroke="#777" stroke-width="0.5"/>
<line x1="320.42" y1="403.5" x2="320.42" y2="404.5" stroke="#777" stroke-width="0.5"/>
<line x1="321.52" y1="403.5" x2="321.52" y2="404.5" stroke="#777" stroke-width="0.5"/>
<line x1="322.5" y1="403.5" x2="322.5" y2="405.3" stroke="#444" stroke-width="0.8"/>
<line x1="328.97" y1="403.5" x2="328.97" y2="404.5" stroke="#777" stroke-width="0.5"/>
<line x1="332.76" y1="403.5" x2="332.76" y2="404.5" stroke="#777" stroke-width="0.5"/>
<line x1="335.44" y1="403.5" x2="335.44" y2="404.5" stroke="#777" stroke-width="0.5"/>
<line x1="337.53" y1="403.5" x2="337.53" y2="404.5" stroke="#777" stroke-width="0.5"/>
<line x1="339.23" y1="403.5" x2="339.23" y2="404.5" stroke="#777" stroke-width="0.5"/>
<line x1="340.67" y1="403.5" x2="340.67" y2="404.5" stroke="#777" stroke-width="0.5"/>
<line x1="341.92" y1="403.5" x2="341.92" y2="404.5" stroke="#777" stroke-width="0.5"/>
<line x1="343.02" y1="403.5" x2="343.02" y2="404.5" stroke="#777" stroke-width="0.5"/>
<line x1="344" y1="403.5" x2="344" y2="405.3" stroke="#444" stroke-width="0.8"/>
<line x1="350.47" y1="403.5" x2="350.47" y2="404.5" stroke="#777" stroke-width="0.5"/>
<line x1="354.26" y1="403.5" x2="354.26" y2="404.5" stroke="#777" stroke-width="0.5"/>
<line x1="356.94" y1="403.5" x2="356.94" y2="404.5" stroke="#777" stroke-width="0.5"/>
<line x1="359.03" y1="403.5" x2="359.03" y2="404.5" stroke="#777" stroke-width="0.5"/>
<line x1="360.73" y1="403.5" x2="360.73" y2="404.5" stroke="#777" stroke-width="0.5"/>
<line x1="362.17" y1="403.5" x2="362.17" y2="404.5" stroke="#777" stroke-width="0.5"/>
<line x1="363.42" y1="403.5" x2="363.42" y2="404.5" stroke="#777" stroke-width="0.5"/>
<line x1="364.52" y1="403.5" x2="364.52" y2="404.5" stroke="#777" stroke-width="0.5"/>
<line x1="365.5" y1="403.5" x2="365.5" y2="405.3" stroke="#444" stroke-width="0.8"/>
<line x1="371.97" y1="403.5" x2="371.97" y2="404.5" stroke="#777" stroke-width="0.5"/>
<line x1="375.76" y1="403.5" x2="375.76" y2="404.5" stroke="#777" stroke-width="0.5"/>
<line x1="378.44" y1="403.5" x2="378.44" y2="404.5" stroke="#777" stroke-width="0.5"/>
<line x1="380.53" y1="403.5" x2="380.53" y2="404.5" stroke="#777" stroke-width="0.5"/>
<line x1="382.23" y1="403.5" x2="382.23" y2="404.5" stroke="#777" stroke-width="0.5"/>
<line x1="383.67" y1="403.5" x2="383.67" y2="404.5" stroke="#777" stroke-width="0.5"/>
<line x1="384.92" y1="403.5" x2="384.92" y2="404.5" stroke="#777" stroke-width="0.5"/>
<line x1="386.02" y1="403.5" x2="386.02" y2="404.5" stroke="#777" stroke-width="0.5"/>
<line x1="387" y1="403.5" x2="387" y2="405.3" stroke="#444" stroke-width="0.8"/>
<text transform="translate(302.6,412.5) scale(0.5)" font-size="10.4" fill="#555">10</text>
<text transform="translate(308.3,408.7) scale(0.5)" font-size="7.8" fill="#555">0</text>
<text transform="translate(320.1,412.5) scale(0.5)" font-size="10.4" fill="#555">10</text>
<text transform="translate(325.8,408.7) scale(0.5)" font-size="7.8" fill="#555">1</text>
<text transform="translate(342.3,412.5) scale(0.5)" font-size="10.4" fill="#555">10</text>
<text transform="translate(348,408.7) scale(0.5)" font-size="7.8" fill="#555">2</text>
<text transform="translate(362.2,412.5) scale(0.5)" font-size="10.4" fill="#555">10</text>
<text transform="translate(367.9,408.7) scale(0.5)" font-size="7.8" fill="#555">3</text>
<text transform="translate(383.6,412.5) scale(0.5)" font-size="10.4" fill="#555">10</text>
<text transform="translate(389.3,408.7) scale(0.5)" font-size="7.8" fill="#555">4</text>
<rect x="395" y="317.9" width="86" height="85.6" fill="none" stroke="#8c8c8c" stroke-width="1.3"/>
<path d="M395.5,402.4 C396.47,402.27 400.47,401.99 402.4,401.5 C404.33,401.01 407.73,399.74 409.3,398.9 C410.87,398.06 412.4,396.83 413.6,395.5 C414.8,394.17 416.81,391.22 417.9,389.4 C418.99,387.58 420.42,384.92 421.4,382.5 C422.38,380.08 424.05,375.01 424.9,372.1 C425.75,369.19 426.77,365.09 427.5,361.7 C428.23,358.31 429.37,351.53 430.1,347.9 C430.83,344.27 431.97,338.47 432.7,335.8 C433.43,333.13 434.57,330.26 435.3,328.8 C436.03,327.34 437.3,325.64 437.9,325.4 C438.5,325.16 439.11,325.9 439.6,327.1 C440.09,328.3 440.91,331.58 441.4,334 C441.89,336.42 442.5,340.76 443.1,344.4 C443.7,348.04 444.97,356.12 445.7,360 C446.43,363.88 447.57,369.68 448.3,372.1 C449.03,374.52 450.06,376.7 450.9,377.3 C451.74,377.9 453.33,375.91 454.3,376.4 C455.27,376.89 456.95,379.46 457.8,380.8 C458.65,382.14 459.67,384.31 460.4,386 C461.13,387.69 462.27,391.21 463,392.9 C463.73,394.59 464.76,396.9 465.6,398.1 C466.44,399.3 467.96,400.79 469,401.5 C470.04,402.21 471.88,402.92 473,403.2 C474.12,403.48 476.44,403.46 477,403.5" fill="none" stroke="#333" stroke-width="1.1" stroke-dasharray="3.2 2"/>
<path d="M395.5,402.4 C396.47,402.27 400.47,401.86 402.4,401.5 C404.33,401.14 407.61,400.4 409.3,399.8 C410.99,399.2 413.04,398.17 414.5,397.2 C415.96,396.23 418.37,394.36 419.7,392.9 C421.03,391.44 422.91,388.98 424,386.8 C425.09,384.62 426.65,380.32 427.5,377.3 C428.35,374.28 429.37,369.08 430.1,365.2 C430.83,361.32 431.97,353.72 432.7,349.6 C433.43,345.48 434.64,338.95 435.3,335.8 C435.96,332.65 436.87,328.61 437.4,327.1 C437.93,325.59 438.6,324.87 439.1,325 C439.6,325.13 440.5,326.49 441,328 C441.5,329.51 442.17,333.01 442.7,335.8 C443.23,338.59 444.2,344.51 444.8,347.9 C445.4,351.29 446.4,356.85 447,360 C447.6,363.15 448.44,367.98 449.1,370.4 C449.76,372.82 450.97,375.84 451.7,377.3 C452.43,378.76 453.57,379.83 454.3,380.8 C455.03,381.77 456.17,383 456.9,384.2 C457.63,385.4 458.77,387.82 459.5,389.4 C460.23,390.98 461.37,394.04 462.1,395.5 C462.83,396.96 463.85,398.89 464.7,399.8 C465.55,400.71 467.04,401.52 468.2,402 C469.36,402.48 471.77,402.99 473,403.2 C474.23,403.41 476.44,403.46 477,403.5" fill="none" stroke="#1a1a1a" stroke-width="1.0"/>
<line x1="395" y1="317.9" x2="395" y2="405" stroke="#4a4a4a" stroke-width="1.4"/>
<line x1="393" y1="403.5" x2="481.6" y2="403.5" stroke="#333" stroke-width="1.4"/>
<line x1="395" y1="403.5" x2="395" y2="405.3" stroke="#444" stroke-width="0.8"/>
<line x1="401.47" y1="403.5" x2="401.47" y2="404.5" stroke="#777" stroke-width="0.5"/>
<line x1="405.26" y1="403.5" x2="405.26" y2="404.5" stroke="#777" stroke-width="0.5"/>
<line x1="407.94" y1="403.5" x2="407.94" y2="404.5" stroke="#777" stroke-width="0.5"/>
<line x1="410.03" y1="403.5" x2="410.03" y2="404.5" stroke="#777" stroke-width="0.5"/>
<line x1="411.73" y1="403.5" x2="411.73" y2="404.5" stroke="#777" stroke-width="0.5"/>
<line x1="413.17" y1="403.5" x2="413.17" y2="404.5" stroke="#777" stroke-width="0.5"/>
<line x1="414.42" y1="403.5" x2="414.42" y2="404.5" stroke="#777" stroke-width="0.5"/>
<line x1="415.52" y1="403.5" x2="415.52" y2="404.5" stroke="#777" stroke-width="0.5"/>
<line x1="416.5" y1="403.5" x2="416.5" y2="405.3" stroke="#444" stroke-width="0.8"/>
<line x1="422.97" y1="403.5" x2="422.97" y2="404.5" stroke="#777" stroke-width="0.5"/>
<line x1="426.76" y1="403.5" x2="426.76" y2="404.5" stroke="#777" stroke-width="0.5"/>
<line x1="429.44" y1="403.5" x2="429.44" y2="404.5" stroke="#777" stroke-width="0.5"/>
<line x1="431.53" y1="403.5" x2="431.53" y2="404.5" stroke="#777" stroke-width="0.5"/>
<line x1="433.23" y1="403.5" x2="433.23" y2="404.5" stroke="#777" stroke-width="0.5"/>
<line x1="434.67" y1="403.5" x2="434.67" y2="404.5" stroke="#777" stroke-width="0.5"/>
<line x1="435.92" y1="403.5" x2="435.92" y2="404.5" stroke="#777" stroke-width="0.5"/>
<line x1="437.02" y1="403.5" x2="437.02" y2="404.5" stroke="#777" stroke-width="0.5"/>
<line x1="438" y1="403.5" x2="438" y2="405.3" stroke="#444" stroke-width="0.8"/>
<line x1="444.47" y1="403.5" x2="444.47" y2="404.5" stroke="#777" stroke-width="0.5"/>
<line x1="448.26" y1="403.5" x2="448.26" y2="404.5" stroke="#777" stroke-width="0.5"/>
<line x1="450.94" y1="403.5" x2="450.94" y2="404.5" stroke="#777" stroke-width="0.5"/>
<line x1="453.03" y1="403.5" x2="453.03" y2="404.5" stroke="#777" stroke-width="0.5"/>
<line x1="454.73" y1="403.5" x2="454.73" y2="404.5" stroke="#777" stroke-width="0.5"/>
<line x1="456.17" y1="403.5" x2="456.17" y2="404.5" stroke="#777" stroke-width="0.5"/>
<line x1="457.42" y1="403.5" x2="457.42" y2="404.5" stroke="#777" stroke-width="0.5"/>
<line x1="458.52" y1="403.5" x2="458.52" y2="404.5" stroke="#777" stroke-width="0.5"/>
<line x1="459.5" y1="403.5" x2="459.5" y2="405.3" stroke="#444" stroke-width="0.8"/>
<line x1="465.97" y1="403.5" x2="465.97" y2="404.5" stroke="#777" stroke-width="0.5"/>
<line x1="469.76" y1="403.5" x2="469.76" y2="404.5" stroke="#777" stroke-width="0.5"/>
<line x1="472.44" y1="403.5" x2="472.44" y2="404.5" stroke="#777" stroke-width="0.5"/>
<line x1="474.53" y1="403.5" x2="474.53" y2="404.5" stroke="#777" stroke-width="0.5"/>
<line x1="476.23" y1="403.5" x2="476.23" y2="404.5" stroke="#777" stroke-width="0.5"/>
<line x1="477.67" y1="403.5" x2="477.67" y2="404.5" stroke="#777" stroke-width="0.5"/>
<line x1="478.92" y1="403.5" x2="478.92" y2="404.5" stroke="#777" stroke-width="0.5"/>
<line x1="480.02" y1="403.5" x2="480.02" y2="404.5" stroke="#777" stroke-width="0.5"/>
<line x1="481" y1="403.5" x2="481" y2="405.3" stroke="#444" stroke-width="0.8"/>
<text transform="translate(396.6,412.5) scale(0.5)" font-size="10.4" fill="#555">10</text>
<text transform="translate(402.3,408.7) scale(0.5)" font-size="7.8" fill="#555">0</text>
<text transform="translate(414.1,412.5) scale(0.5)" font-size="10.4" fill="#555">10</text>
<text transform="translate(419.8,408.7) scale(0.5)" font-size="7.8" fill="#555">1</text>
<text transform="translate(436.3,412.5) scale(0.5)" font-size="10.4" fill="#555">10</text>
<text transform="translate(442,408.7) scale(0.5)" font-size="7.8" fill="#555">2</text>
<text transform="translate(456.2,412.5) scale(0.5)" font-size="10.4" fill="#555">10</text>
<text transform="translate(461.9,408.7) scale(0.5)" font-size="7.8" fill="#555">3</text>
<text transform="translate(477.6,412.5) scale(0.5)" font-size="10.4" fill="#555">10</text>
<text transform="translate(483.3,408.7) scale(0.5)" font-size="7.8" fill="#555">4</text>
<text x="1.2" y="19.6" font-size="25.5" font-weight="bold" text-anchor="start" fill="#000">A</text>
<text x="112.2" y="15" font-size="16.8" text-anchor="start" fill="#000">CD69</text>
<text x="203.4" y="15" font-size="16.8" text-anchor="start" fill="#000">CD25</text>
<text x="299.8" y="15" font-size="16.8" text-anchor="start" fill="#000">CD62L</text>
<text x="394.8" y="15" font-size="16.8" text-anchor="start" fill="#000">CD44</text>
<text x="0.6" y="65.8" font-size="16.7" text-anchor="start" fill="#000">unstimulated</text>
<text x="34.6" y="150.1" font-size="16.7" text-anchor="start" fill="#000">soluble</text>
<text x="34.6" y="168.5" font-size="16.7" text-anchor="start" fill="#000">anti-CD3</text>
<text x="34.6" y="187.5" font-size="16.7" text-anchor="start" fill="#000">+ IL-2</text>
<text x="10.9" y="252" font-size="16.7" text-anchor="start" fill="#000">plate-bound</text>
<text x="10.9" y="270.8" font-size="16.7" text-anchor="start" fill="#000">anti-CD3</text>
<text x="56.4" y="359.7" font-size="16.7" text-anchor="start" fill="#000">PdBu</text>
<text x="1.5" y="442.9" font-size="25.5" font-weight="bold" text-anchor="start" fill="#000">B</text>
<line x1="54.8" y1="447.5" x2="54.8" y2="603.3" stroke="#000" stroke-width="1.6"/>
<line x1="54" y1="602.5" x2="209.8" y2="602.5" stroke="#000" stroke-width="1.6"/>
<line x1="50.2" y1="602.5" x2="54.8" y2="602.5" stroke="#000" stroke-width="1.4"/>
<text x="49" y="606.4" font-size="11" text-anchor="end" fill="#222">0</text>
<line x1="50.2" y1="571.66" x2="54.8" y2="571.66" stroke="#000" stroke-width="1.4"/>
<text x="49" y="575.56" font-size="11" text-anchor="end" fill="#222">50</text>
<line x1="50.2" y1="540.82" x2="54.8" y2="540.82" stroke="#000" stroke-width="1.4"/>
<text x="49" y="544.72" font-size="11" text-anchor="end" fill="#222">100</text>
<line x1="50.2" y1="509.98" x2="54.8" y2="509.98" stroke="#000" stroke-width="1.4"/>
<text x="49" y="513.88" font-size="11" text-anchor="end" fill="#222">150</text>
<line x1="50.2" y1="479.14" x2="54.8" y2="479.14" stroke="#000" stroke-width="1.4"/>
<text x="49" y="483.04" font-size="11" text-anchor="end" fill="#222">200</text>
<line x1="50.2" y1="448.3" x2="54.8" y2="448.3" stroke="#000" stroke-width="1.4"/>
<text x="49" y="452.2" font-size="11" text-anchor="end" fill="#222">250</text>
<line x1="74" y1="602.5" x2="74" y2="607.1" stroke="#000" stroke-width="1.4"/>
<text x="74" y="617.5" font-size="11" text-anchor="middle" fill="#222">0</text>
<line x1="112.6" y1="602.5" x2="112.6" y2="607.1" stroke="#000" stroke-width="1.4"/>
<text x="112.6" y="617.5" font-size="11" text-anchor="middle" fill="#222">0.5</text>
<line x1="151.4" y1="602.5" x2="151.4" y2="607.1" stroke="#000" stroke-width="1.4"/>
<text x="151.4" y="617.5" font-size="11" text-anchor="middle" fill="#222">2.5</text>
<line x1="189.8" y1="602.5" x2="189.8" y2="607.1" stroke="#000" stroke-width="1.4"/>
<text x="189.8" y="617.5" font-size="11" text-anchor="middle" fill="#222">10</text>
<line x1="105.65" y1="587.2" x2="105.65" y2="587.2" stroke="#000" stroke-width="1.5"/>
<line x1="102.45" y1="587.2" x2="108.85" y2="587.2" stroke="#000" stroke-width="1.9" stroke-linecap="round"/>
<rect x="100.35" y="587.2" width="10.6" height="14.85" fill="#6b6b6b" stroke="#000" stroke-width="1.7"/>
<line x1="119.5" y1="582.95" x2="119.5" y2="579.06" stroke="#000" stroke-width="1.5"/>
<line x1="116.3" y1="579.06" x2="122.7" y2="579.06" stroke="#000" stroke-width="1.9" stroke-linecap="round"/>
<rect x="114.25" y="582.95" width="10.5" height="19.1" fill="#cdcdcd" stroke="#000" stroke-width="1.7"/>
<line x1="144.45" y1="525.03" x2="144.45" y2="521.7" stroke="#000" stroke-width="1.5"/>
<line x1="141.25" y1="521.7" x2="147.65" y2="521.7" stroke="#000" stroke-width="1.9" stroke-linecap="round"/>
<rect x="139.15" y="525.03" width="10.6" height="77.02" fill="#6b6b6b" stroke="#000" stroke-width="1.7"/>
<line x1="158.3" y1="526.33" x2="158.3" y2="518.31" stroke="#000" stroke-width="1.5"/>
<line x1="155.1" y1="518.31" x2="161.5" y2="518.31" stroke="#000" stroke-width="1.9" stroke-linecap="round"/>
<rect x="153.05" y="526.33" width="10.5" height="75.72" fill="#cdcdcd" stroke="#000" stroke-width="1.7"/>
<line x1="182.85" y1="485.31" x2="182.85" y2="475.56" stroke="#000" stroke-width="1.5"/>
<line x1="179.65" y1="475.56" x2="186.05" y2="475.56" stroke="#000" stroke-width="1.9" stroke-linecap="round"/>
<rect x="177.55" y="485.31" width="10.6" height="116.74" fill="#6b6b6b" stroke="#000" stroke-width="1.7"/>
<line x1="196.7" y1="494.56" x2="196.7" y2="482.96" stroke="#000" stroke-width="1.5"/>
<line x1="193.5" y1="482.96" x2="199.9" y2="482.96" stroke="#000" stroke-width="1.9" stroke-linecap="round"/>
<rect x="191.45" y="494.56" width="10.5" height="107.49" fill="#cdcdcd" stroke="#000" stroke-width="1.7"/>
<text x="64.6" y="456.7" font-size="14.7" text-anchor="start" fill="#111">NS</text>
<text x="66.6" y="597.3" font-size="10.5" text-anchor="start" fill="#111">ND</text>
<rect x="213.1" y="452" width="16.6" height="8.6" fill="#6b6b6b" stroke="#000" stroke-width="2"/>
<rect x="213.1" y="470.4" width="16.6" height="8.5" fill="#cdcdcd" stroke="#000" stroke-width="2"/>
<text x="239.5" y="461" font-size="13" text-anchor="start" fill="#111">WT</text>
<text x="239.5" y="478.8" font-size="13" text-anchor="start" fill="#111">KI</text>
<text transform="translate(22.4,525.7) rotate(-90)" font-size="12.6" font-weight="bold" text-anchor="middle" fill="#111">IL-2 (pg/ml)</text>
<text x="131.5" y="636.3" font-size="12.9" font-weight="bold" text-anchor="middle" fill="#111">anti-CD3 (ug/ml)</text>
<line x1="311" y1="447.9" x2="311" y2="603.8" stroke="#000" stroke-width="1.6"/>
<line x1="310.2" y1="603" x2="466.5" y2="603" stroke="#000" stroke-width="1.6"/>
<line x1="306.4" y1="603" x2="311" y2="603" stroke="#000" stroke-width="1.4"/>
<text x="305.2" y="606.9" font-size="11" text-anchor="end" fill="#222">0</text>
<line x1="306.4" y1="564.42" x2="311" y2="564.42" stroke="#000" stroke-width="1.4"/>
<text x="305.2" y="568.32" font-size="11" text-anchor="end" fill="#222">5</text>
<line x1="306.4" y1="525.85" x2="311" y2="525.85" stroke="#000" stroke-width="1.4"/>
<text x="305.2" y="529.75" font-size="11" text-anchor="end" fill="#222">10</text>
<line x1="306.4" y1="487.27" x2="311" y2="487.27" stroke="#000" stroke-width="1.4"/>
<text x="305.2" y="491.17" font-size="11" text-anchor="end" fill="#222">15</text>
<line x1="306.4" y1="448.7" x2="311" y2="448.7" stroke="#000" stroke-width="1.4"/>
<text x="305.2" y="452.6" font-size="11" text-anchor="end" fill="#222">20</text>
<line x1="330.5" y1="603" x2="330.5" y2="607.6" stroke="#000" stroke-width="1.4"/>
<text x="330.5" y="618" font-size="11" text-anchor="middle" fill="#222">0</text>
<line x1="369.2" y1="603" x2="369.2" y2="607.6" stroke="#000" stroke-width="1.4"/>
<text x="369.2" y="618" font-size="11" text-anchor="middle" fill="#222">5</text>
<line x1="407.9" y1="603" x2="407.9" y2="607.6" stroke="#000" stroke-width="1.4"/>
<text x="407.9" y="618" font-size="11" text-anchor="middle" fill="#222">20</text>
<line x1="446.6" y1="603" x2="446.6" y2="607.6" stroke="#000" stroke-width="1.4"/>
<text x="446.6" y="618" font-size="11" text-anchor="middle" fill="#222">50</text>
<line x1="362.25" y1="560.03" x2="362.25" y2="543.21" stroke="#000" stroke-width="1.5"/>
<line x1="359.05" y1="543.21" x2="365.45" y2="543.21" stroke="#000" stroke-width="1.9" stroke-linecap="round"/>
<rect x="356.95" y="560.03" width="10.6" height="42.52" fill="#6b6b6b" stroke="#000" stroke-width="1.7"/>
<line x1="376.1" y1="549.23" x2="376.1" y2="529.32" stroke="#000" stroke-width="1.5"/>
<line x1="372.9" y1="529.32" x2="379.3" y2="529.32" stroke="#000" stroke-width="1.9" stroke-linecap="round"/>
<rect x="370.85" y="549.23" width="10.5" height="53.32" fill="#cdcdcd" stroke="#000" stroke-width="1.7"/>
<line x1="400.95" y1="545.52" x2="400.95" y2="529.71" stroke="#000" stroke-width="1.5"/>
<line x1="397.75" y1="529.71" x2="404.15" y2="529.71" stroke="#000" stroke-width="1.9" stroke-linecap="round"/>
<rect x="395.65" y="545.52" width="10.6" height="57.03" fill="#6b6b6b" stroke="#000" stroke-width="1.7"/>
<line x1="414.8" y1="531.48" x2="414.8" y2="510.03" stroke="#000" stroke-width="1.5"/>
<line x1="411.6" y1="510.03" x2="418" y2="510.03" stroke="#000" stroke-width="1.9" stroke-linecap="round"/>
<rect x="409.55" y="531.48" width="10.5" height="71.07" fill="#cdcdcd" stroke="#000" stroke-width="1.7"/>
<line x1="439.65" y1="522.3" x2="439.65" y2="512.27" stroke="#000" stroke-width="1.5"/>
<line x1="436.45" y1="512.27" x2="442.85" y2="512.27" stroke="#000" stroke-width="1.9" stroke-linecap="round"/>
<rect x="434.35" y="522.3" width="10.6" height="80.25" fill="#6b6b6b" stroke="#000" stroke-width="1.7"/>
<line x1="453.5" y1="495.07" x2="453.5" y2="486.89" stroke="#000" stroke-width="1.5"/>
<line x1="450.3" y1="486.89" x2="456.7" y2="486.89" stroke="#000" stroke-width="1.9" stroke-linecap="round"/>
<rect x="448.25" y="495.07" width="10.5" height="107.48" fill="#cdcdcd" stroke="#000" stroke-width="1.7"/>
<text x="320.2" y="457.1" font-size="14.7" text-anchor="start" fill="#111">NS</text>
<text x="322.8" y="597.8" font-size="10.5" text-anchor="start" fill="#111">ND</text>
<rect x="471.1" y="452" width="16.6" height="8.6" fill="#6b6b6b" stroke="#000" stroke-width="2"/>
<rect x="471.1" y="470.4" width="16.6" height="8.5" fill="#cdcdcd" stroke="#000" stroke-width="2"/>
<text x="497.8" y="461" font-size="13" text-anchor="start" fill="#111">WT</text>
<text x="497.8" y="478.8" font-size="13" text-anchor="start" fill="#111">KI</text>
<text transform="translate(283.3,526.7) rotate(-90)" font-size="12.6" font-weight="bold" text-anchor="middle" fill="#111">IL-2 (pg/ml)</text>
<text x="389.1" y="636.3" font-size="12.9" font-weight="bold" text-anchor="middle" fill="#111">PdBu (nM)</text>
<text x="1.8" y="671.2" font-size="25.5" font-weight="bold" text-anchor="start" fill="#000">C</text>
<line x1="64.2" y1="684.6" x2="64.2" y2="864.6" stroke="#000" stroke-width="1.6"/>
<line x1="63.4" y1="863.8" x2="243" y2="863.8" stroke="#000" stroke-width="1.6"/>
<line x1="59.2" y1="863.8" x2="64.2" y2="863.8" stroke="#000" stroke-width="1.4"/>
<text x="57.6" y="868.3" font-size="12.8" text-anchor="end" fill="#222">0</text>
<line x1="59.2" y1="828.12" x2="64.2" y2="828.12" stroke="#000" stroke-width="1.4"/>
<text x="57.6" y="832.62" font-size="12.8" text-anchor="end" fill="#222">200</text>
<line x1="59.2" y1="792.44" x2="64.2" y2="792.44" stroke="#000" stroke-width="1.4"/>
<text x="57.6" y="796.94" font-size="12.8" text-anchor="end" fill="#222">400</text>
<line x1="59.2" y1="756.76" x2="64.2" y2="756.76" stroke="#000" stroke-width="1.4"/>
<text x="57.6" y="761.26" font-size="12.8" text-anchor="end" fill="#222">600</text>
<line x1="59.2" y1="721.08" x2="64.2" y2="721.08" stroke="#000" stroke-width="1.4"/>
<text x="57.6" y="725.58" font-size="12.8" text-anchor="end" fill="#222">800</text>
<line x1="59.2" y1="685.4" x2="64.2" y2="685.4" stroke="#000" stroke-width="1.4"/>
<text x="57.6" y="689.9" font-size="12.8" text-anchor="end" fill="#222">1000</text>
<line x1="79.3" y1="863.8" x2="79.3" y2="868.6" stroke="#000" stroke-width="1.4"/>
<text x="79.3" y="881.5" font-size="12.8" text-anchor="middle" fill="#222">0</text>
<line x1="109" y1="863.8" x2="109" y2="868.6" stroke="#000" stroke-width="1.4"/>
<text x="109" y="881.5" font-size="12.8" text-anchor="middle" fill="#222">1</text>
<line x1="138.7" y1="863.8" x2="138.7" y2="868.6" stroke="#000" stroke-width="1.4"/>
<text x="138.7" y="881.5" font-size="12.8" text-anchor="middle" fill="#222">2</text>
<line x1="168.4" y1="863.8" x2="168.4" y2="868.6" stroke="#000" stroke-width="1.4"/>
<text x="168.4" y="881.5" font-size="12.8" text-anchor="middle" fill="#222">3</text>
<line x1="198.1" y1="863.8" x2="198.1" y2="868.6" stroke="#000" stroke-width="1.4"/>
<text x="198.1" y="881.5" font-size="12.8" text-anchor="middle" fill="#222">4</text>
<line x1="227.8" y1="863.8" x2="227.8" y2="868.6" stroke="#000" stroke-width="1.4"/>
<text x="227.8" y="881.5" font-size="12.8" text-anchor="middle" fill="#222">7</text>
<line x1="73.95" y1="689.32" x2="73.95" y2="688.97" stroke="#000" stroke-width="1.5"/>
<line x1="71.35" y1="688.97" x2="76.55" y2="688.97" stroke="#000" stroke-width="2.6" stroke-linecap="round"/>
<rect x="69.75" y="689.32" width="8.4" height="174.13" fill="#6b6b6b" stroke="#000" stroke-width="1.5"/>
<line x1="84.4" y1="689.32" x2="84.4" y2="688.97" stroke="#000" stroke-width="1.5"/>
<line x1="81.8" y1="688.97" x2="87" y2="688.97" stroke="#000" stroke-width="2.6" stroke-linecap="round"/>
<rect x="80.15" y="689.32" width="8.5" height="174.13" fill="#cdcdcd" stroke="#000" stroke-width="1.5"/>
<line x1="103.65" y1="797.7" x2="103.65" y2="795.47" stroke="#000" stroke-width="1.5"/>
<line x1="101.05" y1="795.47" x2="106.25" y2="795.47" stroke="#000" stroke-width="2.6" stroke-linecap="round"/>
<rect x="99.45" y="797.7" width="8.4" height="65.75" fill="#6b6b6b" stroke="#000" stroke-width="1.5"/>
<line x1="114.1" y1="788.87" x2="114.1" y2="787.71" stroke="#000" stroke-width="1.5"/>
<line x1="111.5" y1="787.71" x2="116.7" y2="787.71" stroke="#000" stroke-width="2.6" stroke-linecap="round"/>
<rect x="109.85" y="788.87" width="8.5" height="74.58" fill="#cdcdcd" stroke="#000" stroke-width="1.5"/>
<line x1="133.35" y1="807.5" x2="133.35" y2="806" stroke="#000" stroke-width="1.5"/>
<line x1="130.75" y1="806" x2="135.95" y2="806" stroke="#000" stroke-width="2.6" stroke-linecap="round"/>
<rect x="129.15" y="807.5" width="8.4" height="55.95" fill="#6b6b6b" stroke="#000" stroke-width="1.5"/>
<line x1="143.8" y1="798.68" x2="143.8" y2="796.99" stroke="#000" stroke-width="1.5"/>
<line x1="141.2" y1="796.99" x2="146.4" y2="796.99" stroke="#000" stroke-width="2.6" stroke-linecap="round"/>
<rect x="139.55" y="798.68" width="8.5" height="64.77" fill="#cdcdcd" stroke="#000" stroke-width="1.5"/>
<line x1="163.05" y1="830.97" x2="163.05" y2="830.35" stroke="#000" stroke-width="1.5"/>
<line x1="160.45" y1="830.35" x2="165.65" y2="830.35" stroke="#000" stroke-width="2.6" stroke-linecap="round"/>
<rect x="158.85" y="830.97" width="8.4" height="32.48" fill="#6b6b6b" stroke="#000" stroke-width="1.5"/>
<line x1="173.5" y1="817.59" x2="173.5" y2="816.17" stroke="#000" stroke-width="1.5"/>
<line x1="170.9" y1="816.17" x2="176.1" y2="816.17" stroke="#000" stroke-width="2.6" stroke-linecap="round"/>
<rect x="169.25" y="817.59" width="8.5" height="45.86" fill="#cdcdcd" stroke="#000" stroke-width="1.5"/>
<line x1="192.75" y1="845.78" x2="192.75" y2="845.51" stroke="#000" stroke-width="1.5"/>
<line x1="190.15" y1="845.51" x2="195.35" y2="845.51" stroke="#000" stroke-width="2.6" stroke-linecap="round"/>
<rect x="188.55" y="845.78" width="8.4" height="17.67" fill="#6b6b6b" stroke="#000" stroke-width="1.5"/>
<line x1="203.2" y1="832.51" x2="203.2" y2="831.96" stroke="#000" stroke-width="1.5"/>
<line x1="200.6" y1="831.96" x2="205.8" y2="831.96" stroke="#000" stroke-width="2.6" stroke-linecap="round"/>
<rect x="198.95" y="832.51" width="8.5" height="30.94" fill="#cdcdcd" stroke="#000" stroke-width="1.5"/>
<line x1="222.45" y1="861.84" x2="222.45" y2="861.66" stroke="#000" stroke-width="1.5"/>
<line x1="219.85" y1="861.66" x2="225.05" y2="861.66" stroke="#000" stroke-width="2.6" stroke-linecap="round"/>
<rect x="218.25" y="861.84" width="8.4" height="1.61" fill="#6b6b6b" stroke="#000" stroke-width="1.5"/>
<line x1="232.9" y1="860.05" x2="232.9" y2="858.98" stroke="#000" stroke-width="1.5"/>
<line x1="230.3" y1="858.98" x2="235.5" y2="858.98" stroke="#000" stroke-width="2.6" stroke-linecap="round"/>
<rect x="228.65" y="860.05" width="8.5" height="3.4" fill="#cdcdcd" stroke="#000" stroke-width="1.5"/>
<rect x="188.7" y="690.4" width="18.5" height="9.1" fill="#6b6b6b" stroke="#000" stroke-width="2"/>
<rect x="188.7" y="711.3" width="18.5" height="8.8" fill="#cdcdcd" stroke="#000" stroke-width="2"/>
<text x="218.5" y="700.2" font-size="15" text-anchor="start" fill="#111">WT</text>
<text x="218.5" y="720.8" font-size="15" text-anchor="start" fill="#111">KI</text>
<text transform="translate(26.3,774.8) rotate(-90)" font-size="14.5" font-weight="bold" text-anchor="middle" fill="#111">MFI CFSE</text>
<text x="153.3" y="901.3" font-size="14.7" font-weight="bold" text-anchor="middle" fill="#111">day of culture</text>
<text x="266.3" y="670.8" font-size="25.5" font-weight="bold" text-anchor="start" fill="#000">D</text>
<line x1="323.8" y1="680.2" x2="323.8" y2="860.4" stroke="#000" stroke-width="1.6"/>
<line x1="323" y1="859.6" x2="502.7" y2="859.6" stroke="#000" stroke-width="1.6"/>
<line x1="319" y1="859.6" x2="323.8" y2="859.6" stroke="#000" stroke-width="1.4"/>
<text x="316.8" y="863.9" font-size="12.2" text-anchor="end" fill="#222">0.0</text>
<line x1="319" y1="800.07" x2="323.8" y2="800.07" stroke="#000" stroke-width="1.4"/>
<text x="316.8" y="804.37" font-size="12.2" text-anchor="end" fill="#222">0.1</text>
<line x1="319" y1="740.53" x2="323.8" y2="740.53" stroke="#000" stroke-width="1.4"/>
<text x="316.8" y="744.83" font-size="12.2" text-anchor="end" fill="#222">0.2</text>
<line x1="319" y1="681" x2="323.8" y2="681" stroke="#000" stroke-width="1.4"/>
<text x="316.8" y="685.3" font-size="12.2" text-anchor="end" fill="#222">0.3</text>
<line x1="346.1" y1="859.6" x2="346.1" y2="864.4" stroke="#000" stroke-width="1.4"/>
<line x1="390.9" y1="859.6" x2="390.9" y2="864.4" stroke="#000" stroke-width="1.4"/>
<line x1="435.3" y1="859.6" x2="435.3" y2="864.4" stroke="#000" stroke-width="1.4"/>
<line x1="479.7" y1="859.6" x2="479.7" y2="864.4" stroke="#000" stroke-width="1.4"/>
<text x="346.3" y="877.2" font-size="13.2" text-anchor="middle" fill="#222">WT</text>
<text x="390.6" y="877.2" font-size="13.2" text-anchor="middle" fill="#222">KI</text>
<text x="435.2" y="877.2" font-size="13.4" text-anchor="middle" fill="#222">control</text>
<text x="479.8" y="877.2" font-size="13.4" text-anchor="middle" fill="#222">isotype</text>
<text x="367.5" y="697.8" font-size="14" text-anchor="middle" fill="#111">NS</text>
<line x1="344.6" y1="704.2" x2="389.6" y2="704.2" stroke="#000" stroke-width="1.6"/>
<rect x="343" y="716.1" width="6.8" height="6.8" fill="#111"/>
<rect x="337.5" y="739.4" width="6.8" height="6.8" fill="#111"/>
<rect x="348.4" y="746.5" width="6.8" height="6.8" fill="#111"/>
<rect x="333.8" y="760.8" width="6.8" height="6.8" fill="#111"/>
<rect x="343" y="765.7" width="6.8" height="6.8" fill="#111"/>
<rect x="352.4" y="765.7" width="6.8" height="6.8" fill="#111"/>
<rect x="343" y="780.9" width="6.8" height="6.8" fill="#111"/>
<rect x="333.8" y="785.6" width="6.8" height="6.8" fill="#111"/>
<rect x="352.4" y="788.8" width="6.8" height="6.8" fill="#111"/>
<rect x="343" y="794.5" width="6.8" height="6.8" fill="#111"/>
<line x1="331" y1="767.7" x2="361.7" y2="767.7" stroke="#000" stroke-width="1.7"/>
<rect x="382.1" y="733.3" width="6.8" height="6.8" fill="#fff" stroke="#111" stroke-width="2.2"/>
<rect x="393" y="737.6" width="6.8" height="6.8" fill="#fff" stroke="#111" stroke-width="2.2"/>
<rect x="377.8" y="742.9" width="6.8" height="6.8" fill="#fff" stroke="#111" stroke-width="2.2"/>
<rect x="396.8" y="743.4" width="6.8" height="6.8" fill="#fff" stroke="#111" stroke-width="2.2"/>
<rect x="387.6" y="749.5" width="6.8" height="6.8" fill="#fff" stroke="#111" stroke-width="2.2"/>
<rect x="382.1" y="760.2" width="6.8" height="6.8" fill="#fff" stroke="#111" stroke-width="2.2"/>
<rect x="392.8" y="761" width="6.8" height="6.8" fill="#fff" stroke="#111" stroke-width="2.2"/>
<rect x="377.8" y="768.5" width="6.8" height="6.8" fill="#fff" stroke="#111" stroke-width="2.2"/>
<rect x="387.6" y="773.4" width="6.8" height="6.8" fill="#fff" stroke="#111" stroke-width="2.2"/>
<rect x="396.8" y="772.6" width="6.8" height="6.8" fill="#fff" stroke="#111" stroke-width="2.2"/>
<line x1="376" y1="757.5" x2="406" y2="757.5" stroke="#000" stroke-width="1.7"/>
<circle cx="430" cy="826.4" r="3.5" fill="#111"/>
<circle cx="440.8" cy="828.7" r="3.5" fill="#111"/>
<circle cx="440.8" cy="836.9" r="3.5" fill="#111"/>
<circle cx="430" cy="843.1" r="3.5" fill="#111"/>
<line x1="420" y1="833.6" x2="450.8" y2="833.6" stroke="#000" stroke-width="1.7"/>
<path d="M467.9,826.3 L472.9,831.3 M472.9,826.3 L467.9,831.3" stroke="#111" stroke-width="2.4" stroke-linecap="round"/>
<path d="M477.3,827.3 L482.3,832.3 M482.3,827.3 L477.3,832.3" stroke="#111" stroke-width="2.4" stroke-linecap="round"/>
<path d="M487.1,826.1 L492.1,831.1 M492.1,826.1 L487.1,831.1" stroke="#111" stroke-width="2.4" stroke-linecap="round"/>
<path d="M477.3,838.3 L482.3,843.3 M482.3,838.3 L477.3,843.3" stroke="#111" stroke-width="2.4" stroke-linecap="round"/>
<path d="M467.9,842.9 L472.9,847.9 M472.9,842.9 L467.9,847.9" stroke="#111" stroke-width="2.4" stroke-linecap="round"/>
<path d="M487.1,847.1 L492.1,852.1 M492.1,847.1 L487.1,852.1" stroke="#111" stroke-width="2.4" stroke-linecap="round"/>
<path d="M477.3,852.1 L482.3,857.1 M482.3,852.1 L477.3,857.1" stroke="#111" stroke-width="2.4" stroke-linecap="round"/>
<line x1="464.6" y1="840.2" x2="495.2" y2="840.2" stroke="#000" stroke-width="1.7"/>
<line x1="472.3" y1="836" x2="487.7" y2="836" stroke="#000" stroke-width="1.7"/>
<line x1="472.3" y1="844.5" x2="487.7" y2="844.5" stroke="#000" stroke-width="1.7"/>
<line x1="479.8" y1="836" x2="479.8" y2="844.5" stroke="#000" stroke-width="1.5"/>
<text transform="translate(286.8,770.0) rotate(-90)" font-size="15" font-weight="bold" text-anchor="middle" fill="#111">% tetramer+ T cells</text>
<text x="413.3" y="898.9" font-size="14.8" font-weight="bold" text-anchor="middle" fill="#111">immunization group</text>
</svg>
</body></html>
